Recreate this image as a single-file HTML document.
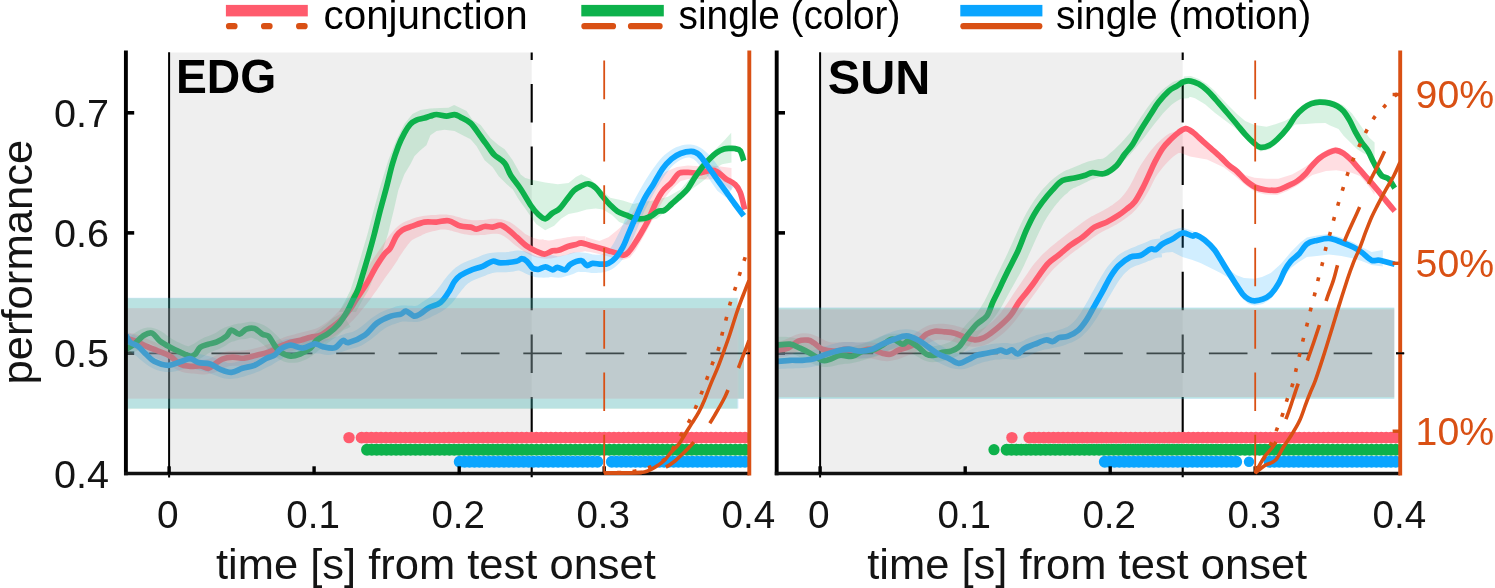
<!DOCTYPE html>
<html><head><meta charset="utf-8"><title>Figure</title>
<style>html,body{margin:0;padding:0;background:#fff;}body{width:1495px;height:588px;overflow:hidden;font-family:"Liberation Sans",sans-serif;}svg{display:block;will-change:transform;}</style></head>
<body>
<svg width="1495" height="588" viewBox="0 0 1495 588" font-family='"Liberation Sans", sans-serif'>
<rect width="1495" height="588" fill="#fff"/>
<clipPath id="clipL"><rect x="125.9" y="50.5" width="625.4" height="428.9"/></clipPath>
<rect x="169.1" y="52.5" width="362.6" height="420.9" fill="#efefef"/>
<line x1="169.1" y1="52.3" x2="169.1" y2="477.5" stroke="#000" stroke-width="2"/>
<line x1="531.7" y1="52.5" x2="531.7" y2="477.3" stroke="#000" stroke-width="2.1" stroke-dasharray="38.5 24.1" stroke-dashoffset="31.1"/>
<line x1="125.9" y1="353.3" x2="753.3" y2="353.3" stroke="#000" stroke-width="1.7" stroke-dasharray="38.6 23.77" stroke-dashoffset="39.2"/>
<line x1="125.9" y1="353.2" x2="134.2" y2="353.2" stroke="#000" stroke-width="3.6"/>
<g clip-path="url(#clipL)">
<path d="M123.2 339.2L125.2 338.5L127.1 337.8L128.5 337.2L130 336.7L131.6 335.4L133.3 334.1L135.5 332.6L137.9 331L140.6 329.4L143.7 328.2L147.3 327.5L150.9 327.5L154.2 328.2L157.1 329.3L159.8 330.6L162.3 332.1L164.6 333.6L166.6 335.2L168.6 336.6L170.3 337.8L172.1 338.9L173.9 339.9L175.7 340.9L177.6 341.9L179.5 342.8L181.4 343.7L183.2 344.5L184.8 345.3L186.3 345.8L187.3 346.1L188 346.2L188.7 346.2L189.6 345.8L190.8 345.3L192.3 344.6L193.9 343.7L195.7 342.5L197.7 341.2L200 339.8L202.4 338.4L204.8 337.3L207.1 336.4L209.2 335.7L211 335L212.8 334.2L214.4 333.5L216 332.7L217.8 331.5L219.9 330.1L222.2 328.7L224.8 327.5L227.3 326.5L229.6 325.9L231.8 325.2L234 324.6L236.4 323.9L238.7 323.6L240.8 323.4L242.7 323.1L244.5 322.7L246.8 322.2L249.6 321.8L252.6 321.8L255.6 322.3L258.3 323.1L261 324L263.6 325.1L266.2 326.5L268.8 328.3L271.2 330.3L273.4 332.3L275.5 334.3L277.6 336.3L279.7 338.4L281.6 340.4L283.5 342.3L285.2 343.9L286.6 345.1L287.9 345.9L288.9 346.3L289.9 346.6L291 346.8L292.1 346.8L293.3 346.8L294.5 346.6L295.8 346.3L297.2 345.8L298.6 345.3L300.1 344.5L301.6 343.6L303.2 342.4L305 340.9L306.9 339.3L308.9 337.7L310.9 336.1L312.9 334.4L315 332.7L317.1 331L319.2 329.4L321.3 327.9L323.2 326.5L325 325.2L326.8 323.8L328.6 322.3L330.9 320.1L333.2 317.7L335.7 316.4L338.4 315L340.4 314L342.3 312.9L350.5 326.7L348.3 327.9L346.2 329L344.8 329.6L343.3 330.2L341.5 332L339.7 333.8L337.4 335.8L335 337.7L332.8 339.3L330.7 340.8L328.8 342.2L326.9 343.6L325 345.1L323.1 346.7L321.1 348.4L319.1 350.1L317.1 351.7L315 353.4L312.8 355.2L310.4 356.9L307.9 358.5L305.4 359.7L302.8 360.8L300.2 361.7L297.5 362.4L294.7 362.8L291.9 362.8L289 362.7L286.1 362.2L283.1 361.2L280.1 359.8L277.4 358.1L274.8 356.1L272.5 353.9L270.4 351.7L268.3 349.7L266.4 347.7L264.5 345.8L262.6 344.1L260.8 342.5L259.2 341.2L257.8 340.1L256.4 339.4L255 338.9L253.7 338.4L252.4 338L251.4 337.8L250.4 337.8L249.2 338L247.5 338.4L245.3 338.9L243.2 339.2L241.3 339.3L239.6 339.6L238 340.1L236.2 340.6L234.4 341.2L232.7 341.6L231.2 342.1L229.8 342.8L228.1 343.8L226.2 345.2L224 346.6L221.6 347.8L219.2 348.9L217 349.8L214.8 350.6L212.9 351.3L211.2 351.9L209.6 352.7L208 353.6L206.3 354.7L204.3 356L202.1 357.4L199.7 358.8L197.2 360L194.4 361.1L191.3 361.9L188 362.2L184.7 361.9L181.7 361.2L179.2 360.3L176.8 359.2L174.6 358.2L172.5 357.2L170.4 356.1L168.3 355L166.1 353.9L163.9 352.6L161.7 351.3L159.4 349.8L157.4 348.3L155.4 346.8L153.7 345.6L152.2 344.7L150.9 344.1L149.8 343.6L149.1 343.4L148.7 343.4L148.3 343.5L147.4 343.9L146.1 344.8L144.5 345.8L142.7 347.1L140.4 348.8L138 350.5L135.5 351.6L132.9 352.7L130.8 353.5L128.8 354.2ZM339 312L345.5 300L350.5 290L355 276L361 256L367.5 234L374.3 208L380.3 186.3L388.3 160.2L396.3 140.2L404.4 124.1L412.4 114.1L420.4 110.1L430.4 108.5L440.5 108.1L448.5 107.7L454.1 105.1L460.5 108.1L466.6 111.1L472.6 120.1L480.6 125.1L490.6 138.2L498.7 145.2L504.7 149.2L512.7 160.2L520.7 174.5L525.3 177.9L531.6 179.7L545.2 182.4L557.8 184.2L568.6 183L575.9 177L581.3 174.2L590.3 178.8L601.1 189.6L610.2 197.7L622.8 200.4L633.6 204L640.9 202.2L653.5 200.4L668 196.8L680.6 189.6L689.6 178.8L698.7 166.1L707.7 157.1L716.7 148.1L724 140.8L731.2 132.7L731.5 162.5L722.1 164.3L713.1 169.7L705.9 178.8L698.7 184.2L691.4 189.6L680.6 200.4L668 209.5L657.1 218.5L644.5 222.1L635.5 223.9L626.4 224.8L619.2 222.1L612 214.9L602.9 209.5L595.7 208.6L586.7 209.5L577.7 212.2L568.6 214L561.4 218.5L554.2 225.7L545.2 230.2L536.1 223.9L527.1 211.3L518.1 198.6L512.7 189.3L506.7 184.3L498.7 176.3L492.7 167.3L484.6 160.2L476.6 146.2L470.6 139.2L464.6 136.2L454.5 131.1L444.5 129.7L436.5 131.1L430.4 135.2L426.4 145.2L420.4 150.2L414.4 156.2L410.4 164.3L404.4 174.3L398.3 190.3L394.3 208L388 234L381 256L374 276L368.5 290L362.5 300L356 312Z" fill="#0db14b" fill-opacity="0.16" fill-rule="nonzero"/>
<path d="M127.1 332.5L129.2 332.8L131.3 333.2L133.7 333.6L136 334.2L138.4 335.1L140.7 336L142.7 336.9L144.8 337.8L146.8 338.7L148.8 339.6L150.8 340.4L152.8 341.3L154.7 342.1L156.7 342.9L158.7 343.8L160.7 344.6L162.7 345.4L164.9 346.3L167 347.3L169.3 348.5L171.5 349.7L173.6 350.9L175.6 352.2L177.6 353.4L179.5 354.6L181.3 355.6L183.1 356.6L184.7 357.3L186.2 357.9L187.7 358.3L189.1 358.6L190.8 358.8L192.6 358.9L194.6 359.1L196.6 359.2L198.6 359.4L200.4 359.6L202.1 359.7L203.6 359.7L205.2 359.6L206.7 359.3L208.1 359L209.6 358.5L211.2 357.9L212.9 357L214.9 356L217 354.9L219.3 353.9L221.6 352.9L224.1 352.1L226.6 351.5L229.1 351.1L231.4 350.9L233.7 350.8L235.8 350.7L237.9 350.7L239.8 350.7L241.7 350.6L243.5 350.5L245.2 350.3L247 350.1L248.7 349.8L250.5 349.5L252.4 349L254.3 348.5L256.3 348L258.2 347.6L260.1 347.1L261.9 346.5L263.7 345.9L265.6 345.3L267.4 344.5L269.3 343.8L271.2 343L273.1 342.1L275.1 341.2L277.2 340.3L279.3 339.3L281.4 338.4L283.6 337.6L285.8 336.8L287.9 336.1L290 335.5L292.1 334.9L294.2 334.4L296.3 333.8L298.3 333.3L300.3 332.8L302.3 332.3L304.3 331.8L306.3 331.3L308.3 330.8L310.2 330.3L312 329.8L313.7 329.3L315.5 328.7L317.2 328L318.9 327.2L320.6 326.3L322.3 325.3L324.1 324.1L325.9 322.8L327.7 321.4L329.6 319.9L331.4 318.4L333.3 316.7L335.1 315L336.9 313.1L338.8 311.2L340.6 309L342.5 306.7L344.4 304.1L346.3 301.5L348.2 298.7L350.2 295.9L352.1 292.9L354.1 289.9L356.1 286.8L358 283.6L360 280.4L362 277.1L364 273.8L366 270.4L368 267.1L370.1 263.7L372.1 260.4L374.2 257.3L376.2 254.4L378.2 251.6L380.2 248.7L382.2 245.7L384.3 242.7L386.3 239.8L388.4 237L390.5 234.3L392.7 231.7L395 229.1L397.3 226.8L399.8 224.7L402.4 223.1L404.9 221.8L407.2 220.7L409.5 219.9L411.7 219.1L413.8 218.3L416 217.6L418.3 217L420.5 216.5L422.8 216L425 215.7L427.2 215.4L429.4 215.2L431.6 215.1L433.6 215L435.6 214.9L437.6 214.8L439.7 214.6L441.9 214.5L444.3 214.5L446.7 214.6L449.1 214.9L451.4 215.3L453.8 215.8L456 216.4L458.1 217L460.1 217.6L462 218.2L463.8 218.7L465.7 219.1L467.5 219.5L469.3 219.8L470.9 220.1L472.6 220.2L474.3 220.3L476 220.2L477.9 220.2L479.8 220.1L481.6 220.1L483.3 219.9L485.2 219.7L487.1 219.4L489.2 219.1L491.5 218.8L493.9 218.7L496.4 218.7L499 219L501.6 219.3L504.2 219.9L507 220.9L509.7 222.1L512.3 223.6L514.7 225.3L516.9 227.1L519.1 228.8L521.2 230.6L523.2 232.3L525.1 234L527.3 235.1L529.5 236.2L531.5 237.1L533.6 237.9L535.5 238.6L537.4 239.1L539.1 239.4L540.5 239.6L541.8 239.5L542.7 239.2L543.5 239.6L544.4 239.9L545.5 240.1L546.8 240.3L548 240.4L549.5 240.4L551.1 240.2L552.9 239.9L554.9 239.5L557 239.1L559.1 238.8L561.1 238.5L563.1 238.1L565.1 237.7L567.3 237.3L569.6 236.9L572.1 236.5L574.5 236.2L576.9 236.2L579.2 236.2L581.3 236.2L583.4 236.2L585.4 236.3L586.6 251L584.6 251.3L582.7 251.7L580.8 252.1L579 252.2L577.3 252.3L575.7 252.5L574 252.9L572.2 253.3L570.2 253.9L568.2 254.4L566.1 255L564 255.4L562 255.9L560 256.4L557.9 256.9L555.8 257.5L553.5 258L551.1 258.4L548.7 258.6L546.2 258.7L543.8 258.6L541.3 258.3L538.7 257.8L536.2 257.2L533.7 256.4L531.2 255.4L528.9 254.3L526.6 253L524.3 251.7L522.1 250.2L519.9 248.7L517.7 247.1L515.5 245.5L513.4 243.7L511.4 242L509.5 240.3L507.6 238.8L505.8 237.4L504.1 236.2L502.6 235.4L501.2 234.7L499.9 234.3L498.5 234L497.1 233.8L495.6 233.7L494.1 233.7L492.5 233.8L490.8 234L488.9 234.3L486.8 234.6L484.7 234.9L482.4 235L480.2 235.1L478.1 235.2L476 235.2L473.7 235.3L471.4 235.2L469 235L466.7 234.6L464.4 234.2L462.2 233.7L460 233.2L457.9 232.6L455.8 232L453.7 231.4L451.8 230.8L450.1 230.4L448.4 230L446.8 229.7L445.3 229.5L443.7 229.5L442.1 229.5L440.3 229.6L438.5 230.1L436.5 230.5L434.5 230.9L432.6 231.3L430.8 231.8L429.1 232.2L427.4 232.7L425.8 233.3L424.3 233.9L422.8 234.6L421.3 235.4L419.7 236.2L418 237L416.4 237.7L414.9 238.4L413.5 239.2L412.5 239.8L411.5 240.5L410.5 241.5L409.3 242.9L407.8 244.7L406.2 246.9L404.5 249.2L402.8 251.8L401 254.5L399.1 257.3L397.3 260.4L395.3 263.4L393.4 266.3L391.6 269L389.5 271.7L387.5 274.5L385.3 277.6L383.1 280.8L380.9 284L378.7 287.2L376.5 290.4L374.2 293.6L372 296.7L369.7 299.9L367.4 303L365.1 305.9L362.8 308.8L360.5 311.6L358.2 314.4L355.9 317.1L353.5 319.7L351.1 322.1L348.7 324.4L346.3 326.4L344.1 328.5L341.9 330.4L339.7 332.3L337.5 334L335.3 335.6L333 337.2L330.7 338.7L328.3 340.1L325.9 341.3L323.6 342.4L321.2 343.4L318.8 344.2L316.5 344.9L314.3 345.5L312.2 346L310.1 346.5L308.1 347L306.1 347.5L304.1 348L302.1 348.5L300.1 349L298.2 349.4L296.3 349.9L294.4 350.4L292.5 351L290.7 351.5L288.9 352.1L287.1 352.8L285.3 353.5L283.4 354.4L281.5 355.2L279.4 356.2L277.4 357.1L275.2 358L273.1 358.8L270.9 359.6L268.7 360.4L266.5 361.1L264.3 361.7L262.1 362.3L260 362.8L258 363.3L255.9 363.8L253.7 364.3L251.5 364.7L249.2 365.1L246.9 365.4L244.6 365.6L242.4 365.7L240.2 365.7L238.2 365.7L236.2 365.8L234.3 365.8L232.6 365.8L231.1 365.9L229.6 366.1L228.2 366.5L226.7 367L225.1 367.6L223.4 368.3L221.5 369.3L219.4 370.4L217.2 371.4L214.7 372.5L212.1 373.3L209.5 373.8L206.9 374.2L204.4 374.4L201.9 374.4L199.5 374.3L197.3 374L195.3 373.8L193.4 373.6L191.4 373.5L189.2 373.3L186.8 373L184.2 372.5L181.6 371.7L179.1 370.7L176.7 369.6L174.4 368.3L172.3 367.1L170.2 365.8L168.1 364.6L166.2 363.3L164.3 362.2L162.6 361.2L160.8 360.3L159 359.4L157.1 358.6L155.2 357.8L153.2 357L151.2 356.1L149.2 355.2L147.1 354.4L145.1 353.5L143.1 352.5L141.1 351.6L139.1 350.7L137.2 349.9L135.3 349L133.6 348.3L132 347.6L130.3 347.3L128.7 347L126.8 346.6L124.9 346.3ZM586 237L590.3 238.5L599.3 241L608.4 237.2L617.4 229.9L626.4 221.8L637.3 205.9L648.1 189.6L657.1 178.8L666.2 171.5L677 167L687.8 165.6L698.7 166.2L709.5 165.2L720.3 166.5L731.5 167.9L731.5 190.5L725.8 186L716.7 178.9L707.7 179.6L698.7 178.9L689.6 178.8L680.6 181L671.6 189.5L664.3 198.5L657.1 211L649.9 225L642.7 238L635.5 250.5L630 257.5L622.8 260L612 257.5L601.1 254.5L590.3 252L586 251.5Z" fill="#ff5b6d" fill-opacity="0.2" fill-rule="nonzero"/>
<path d="M128.7 333.2L130.7 333.9L132.8 334.6L135.7 335.8L138.3 337L140.8 339.2L143.2 341.2L145.1 342.6L147.1 344.3L149.2 346L151.2 347.8L153 349.4L154.8 350.8L156.4 352L158.1 353L159.7 353.9L161.2 354.6L162.6 355.2L163.9 355.6L165.2 355.8L166.6 355.9L168 356L169.5 356L171 355.8L172.5 355.6L174.1 355.2L175.8 354.7L177.8 354.1L180.1 353.4L182.6 352.9L185.2 352.5L187.8 352.3L190.4 352.4L192.9 352.6L195.2 352.9L197.6 353.4L199.8 353.9L201.9 354.5L204 354.9L205.9 355.4L208 355.9L210.2 356.5L212.4 357.1L214.6 357.9L216.8 358.7L218.9 359.5L221 360.3L222.9 361.1L224.6 361.8L226.2 362.3L227.5 362.7L228.8 362.9L230.1 362.9L231.5 362.9L233 362.7L234.5 362.5L236.1 362.1L237.9 361.6L239.7 361L241.7 360.4L243.7 359.9L245.6 359.3L247.4 358.7L249.2 358L251 357.3L252.8 356.6L254.6 355.7L256.5 354.8L258.4 353.8L260.4 352.8L262.3 351.9L264.1 350.9L266 349.8L267.9 348.6L269.9 347.4L271.9 346.2L273.9 345L276 343.8L278.2 342.5L280.6 341.2L283.3 340L286.2 339.2L289 338.8L291.7 338.6L294.1 338.6L296.3 338.7L298.2 338.8L300 338.9L301.7 338.9L303.3 338.7L305 338.5L306.9 338.2L309 337.9L311.3 337.6L313.6 337.4L316.1 337.4L318.5 337.5L320.9 337.7L323.2 338L325.2 338.4L326.9 338.8L328.1 338.9L329.1 338.9L330.3 338.6L331.9 338.1L333.7 337.5L335.7 336.9L337.6 336.4L339.5 335.8L341.5 335.1L343.5 334.4L345.8 333.6L348 333.1L349.9 332.6L351.6 332.3L353 331.8L354.5 331.1L356 330.2L357.7 329.2L359.4 328L361.2 326.7L363 325.2L364.9 323.7L366.9 322L369 320.3L371.1 318.6L373.3 316.9L375.6 315.4L377.9 313.9L380.3 312.5L382.7 311.4L385 310.4L387.2 309.6L389.3 308.9L391.4 308.2L393.6 307.4L395.9 306.6L398.5 306L401.3 305.6L403.9 305.5L406.2 305.6L408.3 305.7L410.2 305.8L412.2 305.8L413.8 305.9L415.2 305.9L416.3 305.8L417.4 305.5L418.6 304.7L420.1 303.7L421.8 302.6L423.7 301.3L425.6 300L427.4 298.9L429.1 297.6L430.7 296.4L432.2 295.2L433.7 293.8L435.1 292.3L436.5 290.5L438.2 288.3L440 285.9L442 283.2L444 280.3L446.2 277.5L448.4 274.8L450.8 272.2L453.2 269.7L455.8 267.5L458.5 265.7L461.1 264.1L463.6 262.8L466 261.8L468.2 260.8L470.3 260L472.4 259.2L474.3 258.4L476.3 257.7L478.3 256.9L480.4 256L482.7 255.1L485.1 254.3L487.6 253.6L490.1 253.1L492.6 252.7L495.1 252.4L497.5 252.2L499.8 252.2L502 252.2L503.9 252.2L505.6 252.2L507.1 252.1L508.6 251.9L510.4 251.6L512.5 251.2L515 250.8L518 250.6L521.1 250.8L524.3 251.3L527.2 252.2L529.9 253.3L532.4 254.4L534.5 255.6L536.5 256.3L538 256.7L539.2 256.8L540.3 256.8L541.6 256.7L542.9 256.5L544.3 256.3L545.8 256L547.6 255.6L549.9 255.1L552.5 255.3L554.9 255.7L556.6 256.1L557.5 256.4L558.2 256.4L559.2 256.3L560.8 255.9L562.6 255.6L564.3 255.3L565.9 254.9L567.9 254.2L570.5 253.2L573.6 252.4L576.9 252.2L579.9 252.3L582.3 252.5L584.6 252.7L586.9 253L589.2 253.5L591.2 253.9L592.8 254.4L594.2 254.6L595.7 254.7L597.4 254.7L599.2 254.8L600.8 254.6L602.1 254.4L603.2 254.2L604.2 253.9L605.3 253.3L606.4 252.5L607.7 251.4L609.1 249.8L610.7 247.8L612.4 245.2L614.2 242.2L616 238.7L617.9 234.9L619.9 230.9L621.8 226.7L623.8 222.4L625.8 217.9L627.8 213.4L629.9 209L631.9 204.8L634 200.7L636.1 196.8L638.2 192.9L640.3 189.2L642.4 185.6L644.5 182L646.6 178.6L648.7 175.3L650.8 172.1L652.9 168.9L655.1 165.9L657.3 163L659.5 160.2L661.9 157.6L664.2 155.3L666.7 153.2L669.1 151.4L671.6 149.7L674.1 148.3L676.7 147.1L679.3 146.2L682 145.3L684.7 144.8L687.7 144.5L690.8 144.6L693.9 145.1L697.1 146.1L700.1 147.5L702.9 149.3L705.5 151.4L708 153.7L710.3 156.2L712.5 158.9L714.7 161.6L716.8 164.4L718.9 167.2L721 170L723 172.7L725.1 175.5L726.8 177.8L728.3 180.1L729.8 180.9L731.1 181.6L733.1 183L735.1 184.3L726 197.4L724.1 195.9L722.1 194.5L719.6 192.6L717.3 190.7L715 187.4L712.8 184.3L710.9 181.4L709 178.6L707.1 175.8L705.2 173L703.3 170.3L701.5 167.7L699.7 165.4L698 163.4L696.3 161.6L694.8 160.2L693.4 159.1L692 158.4L690.8 157.9L689.5 157.6L688.2 157.6L686.8 157.7L685.3 158L683.7 158.6L682 159.2L680.3 160L678.7 161L676.9 162.2L675.2 163.5L673.4 165L671.6 166.8L669.8 168.9L668 171.2L666.1 173.8L664.1 176.6L662.2 179.5L660.2 182.6L658.3 185.7L656.3 189L654.3 192.4L652.4 195.9L650.4 199.5L648.4 203.2L646.5 207L644.5 210.9L642.7 215.1L640.9 219.5L639.1 223.9L637.3 228.5L635.4 233L633.6 237.4L631.7 241.7L629.8 246L627.9 250L625.9 253.7L623.9 257.2L621.7 260.4L619.3 263.2L616.9 265.6L614.2 267.7L611.5 269.4L608.6 270.7L605.8 271.7L603.2 272.3L600.8 272.7L598.6 272.8L596.3 273L593.8 273.1L591.3 272.9L588.9 272.6L586.9 272.3L585.2 272.1L583.5 272L581.7 271.9L580.1 271.9L578.9 271.8L577.9 271.9L576.8 272.3L575.3 273L573.2 273.9L570.9 274.8L568.6 275.4L566.4 276L564.1 276.7L561.3 277.4L558.4 277.7L555.6 277.6L553.3 277.3L551.6 277.1L550.1 277.1L548.3 277.4L546.1 277.6L543.8 277.7L541.3 277.6L538.7 277.5L536 277.2L533.1 276.5L530.3 275.6L527.7 274.5L525.5 273.4L523.6 272.4L522.1 271.7L520.8 271.2L519.7 270.8L518.9 270.6L518 270.6L517 270.7L515.5 271L513.6 271.4L511.4 271.8L508.9 272L506.4 272.2L504.1 272.2L502 272.2L500.2 272.2L498.5 272.2L496.9 272.3L495.4 272.5L493.9 272.7L492.4 273L490.9 273.4L489.3 274L487.6 274.6L485.7 275.4L483.7 276.3L481.7 277.1L479.6 277.8L477.7 278.6L475.8 279.3L474 280.1L472.4 280.8L470.9 281.6L469.5 282.4L468.2 283.3L466.8 284.5L465.2 286L463.6 287.9L461.8 290L460 292.4L458 295.1L456 297.9L453.8 300.8L451.5 303.5L448.9 306L446.3 308.2L443.8 310.1L441.3 311.7L438.9 313.1L436.6 314.2L434.4 315.3L432.3 316.3L430.2 317.4L427.9 318.5L425.4 319.6L422.6 320.6L419.7 321.4L416.8 321.9L414.2 321.9L411.8 321.8L409.8 321.8L407.7 321.7L405.8 321.6L404.1 321.5L402.7 321.6L401.5 321.7L400.1 322.1L398.4 322.7L396.6 323.3L394.7 323.9L392.8 324.6L391 325.3L389.3 326L387.7 326.7L386.1 327.6L384.4 328.7L382.7 329.9L380.9 331.3L379 332.8L377.1 334.4L375.1 336L373 337.8L370.8 339.5L368.6 341.1L366.3 342.6L364 344.1L361.5 345.4L359 346.6L356.4 347.5L354.1 348.1L352 348.6L350.2 349L348.5 349.6L346.5 350.3L344.5 351L342.4 351.7L340.3 352.2L338.3 352.8L336.1 353.5L333.7 354.3L330.9 354.8L327.9 354.9L325.1 354.7L322.8 354.2L320.8 353.8L319.1 353.6L317.5 353.5L315.9 353.4L314.4 353.4L312.7 353.5L311 353.8L309.1 354L307 354.4L304.7 354.7L302.3 354.8L300 354.9L297.8 354.8L295.7 354.7L293.9 354.6L292.3 354.6L291 354.6L289.8 354.8L288.7 355.1L287.4 355.7L285.8 356.6L284 357.6L282.1 358.8L280.1 359.9L278.1 361.1L276.1 362.3L274 363.6L271.9 364.9L269.7 366L267.6 367.1L265.6 368.1L263.5 369.1L261.4 370.2L259.2 371.2L257 372.1L254.8 373L252.6 373.8L250.4 374.5L248.3 375.1L246.3 375.7L244.3 376.4L242.1 377L239.9 377.6L237.5 378.2L235 378.6L232.5 378.8L229.9 378.9L227.2 378.8L224.5 378.4L221.8 377.8L219.4 376.9L217.1 376L215 375.2L213.1 374.4L211.2 373.7L209.4 373L207.6 372.4L205.8 371.9L204 371.4L202.1 371L200 370.5L198.1 370L196.2 369.5L194.4 369L192.8 368.7L191.1 368.5L189.6 368.4L188.2 368.3L186.8 368.4L185.4 368.6L183.9 369L182.2 369.5L180.2 370.1L177.9 370.8L175.5 371.3L173 371.7L170.5 371.9L168 372L165.4 371.9L162.8 371.6L160.1 371.1L157.4 370.3L154.8 369.3L152.3 368.1L149.9 366.7L147.6 365.3L145.2 363.6L143 361.8L140.8 360L138.8 358.2L136.9 356.6L134.9 355L132.8 353.4L131.2 352L129.7 350.4L128.3 350L127.2 349.6L125.3 349L123.3 348.2Z" fill="#0aa5ff" fill-opacity="0.19" fill-rule="nonzero"/>
<path d="M126 338.2C127.7 338.7 132.7 339.9 136 341.2C139.3 342.5 142.7 344.7 146 346.2C149.3 347.7 152.1 348.5 156.1 350.2C160.1 351.9 166.2 353.8 170.2 356.2C174.2 358.6 176.9 362.6 180.2 364.3C183.5 366 186.8 366 190.2 366.3C193.5 366.6 197.3 365.6 200.3 365.9C203.3 366.2 206 368.6 208.3 368.3C210.6 368 212 365.8 214.3 364.3C216.6 362.8 219.3 360.4 222.3 359.2C225.3 358 228.7 357.4 232.4 357.2C236.1 357 240.4 358.5 244.4 358.2C248.4 357.9 252.5 356.2 256.5 355.2C260.5 354.2 264.5 353.7 268.5 352.2C272.5 350.7 276.8 347.9 280.5 346.2C284.2 344.5 287.2 343.2 290.6 342.2C294 341.2 297.3 341 300.6 340.2C303.9 339.4 307.2 338 310.6 337.2C314 336.4 317.4 336.7 320.7 335.2C324 333.7 327.3 330.6 330.7 328.1C334.1 325.6 337.4 323.4 340.8 320.1C344.2 316.8 348.2 311.6 350.8 308.1C353.4 304.7 353.6 303.4 356.2 299.4C358.8 295.4 362.8 289.8 366.2 284.3C369.6 278.8 373.3 271.3 376.3 266.3C379.3 261.3 382 257.2 384.3 254.2C386.6 251.2 388.3 251.2 390.3 248.2C392.3 245.2 394.3 239.2 396.3 236.2C398.3 233.2 399.6 231.8 402.3 230.1C405 228.4 408.7 227.4 412.4 226.1C416.1 224.8 420.4 222.8 424.4 222.1C428.4 221.4 432.5 222.3 436.5 222.1C440.5 221.9 444.5 220 448.5 220.7C452.5 221.4 456.8 225 460.5 226.1C464.2 227.2 467.9 226.6 470.6 227.1C473.3 227.6 474.3 229.2 476.6 229.1C478.9 229 481.9 226.8 484.6 226.5C487.3 226.2 490 227.3 492.7 227.1C495.4 226.9 498 224.6 500.7 225.1C503.4 225.6 506 228.1 508.7 230.1C511.4 232.1 513.7 234.5 516.7 237.2C519.7 239.9 523.4 243.8 526.8 246.2C530.1 248.6 533.8 250.1 536.8 251.4C539.8 252.7 541.9 254.2 544.5 254.1C547.1 254 550.3 251.4 552.6 250.8C554.9 250.2 555.9 251 558.4 250.3C560.9 249.6 564.9 247.5 567.8 246.5C570.7 245.5 573.8 245.1 576 244.5C578.2 243.9 578.8 242.8 581.2 242.9C583.6 243.1 587.3 244.6 590.3 245.4C593.3 246.2 596.3 247.1 599.3 248C602.3 248.9 605.4 249.8 608.4 250.7C611.4 251.6 614.8 252.7 617.4 253.4C620 254.2 621.9 255.3 623.7 255.2C625.5 255 626.6 254.2 628.2 252.5C629.9 250.8 631.5 248.5 633.6 245.3C635.7 242.1 638.5 237.6 640.9 233.5C643.3 229.4 645.7 225.4 648.1 220.5C650.5 215.6 652.9 208.8 655.3 204C657.7 199.2 659.8 195 662.5 191.4C665.2 187.8 668.9 185.4 671.6 182.4C674.3 179.4 676.1 175 678.8 173.3C681.5 171.6 684.5 172.5 687.8 172.4C691.1 172.3 695.1 173.3 698.7 173C702.3 172.7 706.5 170.8 709.5 170.6C712.5 170.3 714 170.1 716.7 171.5C719.4 172.9 722.8 176.7 725.8 178.8C728.8 180.9 732.4 181.9 734.8 184.2C737.2 186.4 738.6 188.1 740.2 192.3C741.9 196.5 744 206.6 744.7 209.5" fill="none" stroke="#ff5b6d" stroke-width="5.7" stroke-linejoin="round" stroke-linecap="butt"/>
<path d="M126 349.2C127.3 348.4 131 346.5 134 344.2C137 341.9 141.1 337 144.1 335.2C147.1 333.4 149.4 332.1 152.1 333.1C154.8 334.1 157.1 338.9 160.1 341.2C163.1 343.5 166.8 345.4 170.2 347.2C173.5 349 176.9 350.7 180.2 352.2C183.5 353.7 187.7 355.9 190.2 356.2C192.7 356.5 193.6 355.7 195.3 354.2C197 352.7 198.1 348.9 200.3 347.2C202.5 345.5 205.6 345 208.3 344.2C211 343.4 213.3 343.5 216.3 342.2C219.3 340.9 223.9 338.2 226.4 336.2C228.9 334.2 229.2 330.4 231.4 330.1C233.6 329.8 236.9 334.4 239.4 334.2C241.9 334 243.9 330.1 246.4 329.1C248.9 328.2 251.8 327.6 254.5 328.5C257.2 329.4 260.2 332.9 262.5 334.2C264.8 335.5 266.5 334.4 268.5 336.2C270.5 338 272.5 342.5 274.5 345.2C276.5 347.9 277.8 350.4 280.5 352.2C283.2 354 287.2 355.9 290.6 356.2C294 356.5 297.3 355.1 300.6 353.8C303.9 352.5 307.9 350.5 310.6 348.2C313.3 345.9 313.7 342.7 316.7 340.2C319.7 337.7 325 335.8 328.7 333.1C332.4 330.4 335.7 327.6 338.7 324.1C341.7 320.6 344.4 316.1 346.8 312.1C349.2 308.1 351 303.7 352.8 300C354.6 296.3 356.2 293.9 357.8 290C359.4 286.1 360.5 281.9 362.2 276.3C363.9 270.7 366.2 263.2 368.2 256.2C370.2 249.2 372.3 241.8 374.3 234.1C376.3 226.4 378.3 217.7 380.3 210C382.3 202.3 384.3 195.6 386.3 188C388.3 180.4 390.3 171.3 392.3 164.3C394.3 157.3 396.3 151.4 398.3 146.2C400.3 141 402.4 136.8 404.4 133.1C406.4 129.4 408.4 126.3 410.4 124.1C412.4 121.9 414.1 121.1 416.4 120.1C418.7 119.1 422.1 118.8 424.4 118.1C426.7 117.4 428.4 116.7 430.4 116.1C432.4 115.5 433.8 114.5 436.5 114.5C439.2 114.5 443.5 116.1 446.5 116.1C449.5 116.1 452.2 114.5 454.5 114.7C456.8 114.9 457.8 115.7 460.5 117.1C463.2 118.5 467.2 119.9 470.6 123.1C474 126.3 477.3 131.7 480.6 136.2C483.9 140.7 488.2 147 490.6 150.2C493 153.4 492.4 153 494.7 155.2C497 157.4 502 159.8 504.7 163.2C507.4 166.5 508 171 510.7 175.3C513.4 179.6 517.3 183.9 520.7 189C524.1 194.1 528.3 201.8 531.2 206C534.1 210.2 535.6 211.9 537.9 214C540.2 216.1 542.8 219 545.2 218.8C547.6 218.7 550 214.8 552.4 213.1C554.8 211.4 557.2 210.9 559.6 208.6C562 206.3 564.4 202.5 566.8 199.5C569.2 196.5 571.6 192.8 574 190.5C576.4 188.2 578.9 187.1 581.3 186C583.7 184.9 586.1 183.5 588.5 183.8C590.9 184.1 593.3 185.6 595.7 187.8C598.1 190 600.5 193.9 602.9 196.8C605.3 199.7 607.8 202.6 610.2 205C612.6 207.4 614.7 209.6 617.4 211.3C620.1 213 623.4 214 626.4 215.2C629.4 216.4 632.5 217.9 635.5 218.5C638.5 219.1 641.8 218.9 644.5 218.5C647.2 218.1 649.5 217 651.7 215.8C654 214.6 655.9 212.2 658 211.3C660.1 210.4 662 211.6 664.3 210.4C666.6 209.2 668.9 206.4 671.6 204C674.3 201.6 677.9 198.5 680.6 195.9C683.3 193.3 685.4 191.8 687.8 188.7C690.2 185.5 692.7 180.6 695.1 177C697.5 173.4 699.9 170 702.3 167C704.7 164 707.1 161.3 709.5 158.9C711.9 156.5 714.3 154.2 716.7 152.6C719.1 150.9 721.7 149.7 724 149C726.3 148.3 728.5 148.5 730.3 148.4C732.1 148.3 733.1 148.2 734.8 148.6C736.4 149 738.7 148.8 740.2 150.8C741.7 152.8 743.2 159 743.8 160.7" fill="none" stroke="#0db14b" stroke-width="5.7" stroke-linejoin="round" stroke-linecap="butt"/>
<path d="M126 335.2C126.7 336.4 128 340.4 130 342.2C132 344 135.3 344.2 138 346.2C140.7 348.2 143.3 351.7 146 354.2C148.7 356.7 150.4 359.3 154.1 361.2C157.8 363.1 163.8 365.2 168.2 365.3C172.5 365.4 176.5 362.9 180.2 361.8C183.9 360.7 187.2 358.5 190.2 358.6C193.2 358.7 195 361.7 198.3 362.6C201.7 363.5 206.6 362.8 210.3 363.9C214 365 216.8 367.9 220.3 369.3C223.8 370.7 227.7 372.5 231.4 372.3C235.1 372.1 238.6 369.5 242.4 368.3C246.2 367.1 250.5 367 254.5 365.3C258.5 363.6 263.2 359.9 266.5 358.2C269.8 356.5 272.2 356.7 274.5 355.2C276.8 353.7 277.8 350.9 280.5 349.2C283.2 347.5 286.9 345.4 290.6 345.2C294.3 345 298.6 348.4 302.6 348.2C306.6 348 311.4 344.1 314.7 343.8C318 343.5 319.4 345.9 322.7 346.6C326 347.3 331.3 348.8 334.7 347.8C338.1 346.8 340.4 341.5 342.8 340.6C345.2 339.7 345.1 343.5 348.8 342.6C352.5 341.7 360.1 338.4 364.8 335.2C369.5 331.9 372.5 326.3 376.9 323.1C381.2 319.9 386.9 317.6 390.9 316.1C394.9 314.6 398.5 314.9 401 314.1C403.5 313.3 403.8 310.8 406 311.1C408.2 311.4 411.7 315.6 414 316.1C416.3 316.6 417.6 315.5 420 314.1C422.4 312.8 425 309.9 428.4 308C431.8 306.1 437.1 305 440.5 302.4C443.9 299.8 446.2 295.8 448.5 292.3C450.8 288.8 452.5 284.1 454.5 281.3C456.5 278.5 457.8 277.1 460.5 275.3C463.2 273.5 466.9 271.8 470.6 270.3C474.3 268.8 478.9 267.8 482.6 266.3C486.3 264.8 489.7 261.8 492.7 261.2C495.7 260.6 496.7 262.8 500.7 262.8C504.7 262.8 513 262 516.5 261.3C520 260.6 520 258.6 521.7 258.6C523.5 258.6 525.2 259.7 527 261.3C528.8 262.9 530.7 266.8 532.6 268.1C534.5 269.4 536.2 269.5 538.4 269.3C540.5 269.1 543.1 266.7 545.5 266.8C547.9 266.9 550.6 269.7 552.6 269.8C554.6 269.9 555.3 267.3 557.4 267.3C559.5 267.3 562.8 270.4 565 269.9C567.2 269.4 567.9 265.8 570.6 264.2C573.3 262.6 578.5 260.4 581.2 260.6C583.9 260.8 584.9 265.1 586.8 265.5C588.7 265.9 590.2 263.5 592.6 263.3C595 263.1 598.5 264.2 601.1 264.2C603.7 264.2 606 264.4 608.4 263.3C610.8 262.2 613.2 260.6 615.6 257.9C618 255.2 620.7 250.9 622.8 247.1C624.9 243.3 626.2 239.2 628 235C629.8 230.8 632.4 224.6 633.6 221.8C634.9 219.1 633.7 222.4 635.5 218.5C637.3 214.6 641.5 204.3 644.5 198.6C647.5 192.9 650.5 189.2 653.5 184.2C656.5 179.2 659.5 173 662.5 168.8C665.5 164.6 668.6 161.5 671.6 158.9C674.6 156.3 677.3 154.8 680.6 153.5C683.9 152.2 688.4 151.2 691.4 151.3C694.4 151.5 696 151.9 698.7 154.4C701.4 156.9 704.7 162 707.7 166.1C710.7 170.2 713.7 174.6 716.7 178.8C719.7 183 722.8 187.2 725.8 191.4C728.8 195.6 731.8 199.9 734.8 204C737.8 208.1 742.3 213.8 743.8 215.8" fill="none" stroke="#0aa5ff" stroke-width="5.7" stroke-linejoin="round" stroke-linecap="butt"/>
<rect x="125.9" y="297.7" width="612.6" height="110.7" fill="rgb(70,170,255)" fill-opacity="0.2"/>
<rect x="125.9" y="298.2" width="611.6" height="110.6" fill="rgb(60,180,110)" fill-opacity="0.2"/>
<rect x="125.9" y="308.2" width="618.1" height="90.5" fill="rgb(217,116,130)" fill-opacity="0.2"/>
<rect x="738.5" y="308.2" width="5.5" height="90.5" fill="rgb(70,170,255)" fill-opacity="0.2"/>
<rect x="737.5" y="308.2" width="6.5" height="90.5" fill="rgb(60,180,110)" fill-opacity="0.2"/>
</g>
<circle cx="349" cy="437.6" r="5.7" fill="#ff5b6d"/>
<line x1="361.6" y1="437.6" x2="745.30" y2="437.6" stroke="#ff5b6d" stroke-width="11.9" stroke-linecap="round" stroke-dasharray="0 4.8532"/>
<line x1="367" y1="449.7" x2="745.30" y2="449.7" stroke="#0db14b" stroke-width="11.9" stroke-linecap="round" stroke-dasharray="0 4.8462"/>
<line x1="459.7" y1="461.8" x2="597.70" y2="461.8" stroke="#0aa5ff" stroke-width="11.9" stroke-linecap="round" stroke-dasharray="0 4.9179"/>
<line x1="611.8" y1="461.8" x2="745.30" y2="461.8" stroke="#0aa5ff" stroke-width="11.9" stroke-linecap="round" stroke-dasharray="0 4.7571"/>
<line x1="125.9" y1="50.5" x2="125.9" y2="475.2" stroke="#000" stroke-width="3.9"/>
<line x1="124" y1="473.6" x2="749.3" y2="473.6" stroke="#111" stroke-width="3.5"/>
<line x1="125.9" y1="112.8" x2="134.2" y2="112.8" stroke="#000" stroke-width="3.6"/>
<line x1="125.9" y1="232.9" x2="134.2" y2="232.9" stroke="#000" stroke-width="3.6"/>
<line x1="169.1" y1="466.3" x2="169.1" y2="474" stroke="#000" stroke-width="3.4"/>
<line x1="314.1" y1="466.3" x2="314.1" y2="474" stroke="#000" stroke-width="3.4"/>
<line x1="459.2" y1="466.3" x2="459.2" y2="474" stroke="#000" stroke-width="3.4"/>
<line x1="604.2" y1="466.3" x2="604.2" y2="474" stroke="#000" stroke-width="3.4"/>
<line x1="604.2" y1="473.4" x2="604.2" y2="60.3" stroke="#d95014" stroke-width="1.8" stroke-dasharray="38.6 23.77"/>
<g clip-path="url(#clipL)" fill="none" stroke="#d95014" stroke-width="3.6" stroke-linejoin="round">
<path d="M604.3 473C607.8 472.9 619.6 472.7 625 472.3C630.4 471.9 632.5 471.6 636.9 470.7C641.3 469.8 646.6 468.6 651.2 466.7C655.9 464.8 661 462.5 664.8 459.2C668.6 455.9 671.1 451.1 673.9 446.9C676.7 442.6 679.2 438.1 681.8 433.7C684.4 429.3 687.2 424.9 689.6 420.4C692 415.9 694.1 411.2 696.1 406.5C698.1 401.8 700 397 701.9 392.1C703.8 387.2 705.6 382.1 707.4 377.3C709.2 372.5 710.6 368.1 712.5 363.4C714.4 358.7 716.9 353.9 718.5 349C720.1 344.1 720.9 338.8 722.2 333.7C723.5 328.6 724.9 323.8 726.2 318.7C727.5 313.6 728.7 308.2 730.2 303.2C731.7 298.2 733.5 293.7 735.1 288.8C736.7 283.9 738.2 278.8 739.8 273.8C741.4 268.8 743.2 263.4 744.7 258.8C746.2 254.2 748.3 248.1 749 246" stroke-dasharray="3.9 11.7" stroke-dashoffset="2.7"/>
<path d="M604.3 473C610.2 472.9 631.5 472.9 640 472.6C648.5 472.3 650.8 471.9 655 471C659.2 470.1 662.2 469 665.5 467.3C668.8 465.6 672.1 463.3 675 461C677.9 458.7 680.2 456.3 683 453.5C685.8 450.7 689.2 447.3 692 444.2C694.8 441.1 697.3 438.2 700 435C702.7 431.8 705.7 428.9 708.4 425.2C711.1 421.5 713.2 417.7 716 413C718.8 408.3 722.4 402 724.9 397C727.4 392 728.9 387.4 731 383C733.1 378.6 735.3 375.1 737.3 370.6C739.3 366.1 741 361 743 356C745 351 748 343.1 749 340.5" stroke-dasharray="37.6 24.8"/>
<path d="M604.3 473C608.7 473 624.1 472.9 630.8 472.8C637.5 472.7 641 472.7 644.4 472.1C647.8 471.5 648.9 470.5 651.2 469.4C653.5 468.3 655.7 466.9 658 465.3C660.3 463.7 662.5 462.2 664.8 459.9C667.1 457.6 669.3 454.2 671.6 451.7C673.9 449.2 676.1 447.8 678.4 444.9C680.7 441.9 682.9 437.6 685.2 434C687.5 430.4 689.7 426.7 692 423.1C694.3 419.5 696.7 416.1 698.8 412.2C700.9 408.3 702.5 404.7 704.5 400C706.5 395.3 708.6 389.2 710.8 383.9C712.9 378.6 715.2 373.9 717.4 368.4C719.6 362.9 722 356.3 724 350.8C726 345.3 727.3 341.9 729.5 335.3C731.7 328.7 734.9 318 737.3 311C739.7 304 741.9 298.4 743.9 293.3C745.9 288.2 748.1 282.6 749 280.5"/>
</g>
<line x1="749.3" y1="50.5" x2="749.3" y2="475.4" stroke="#d95014" stroke-width="3.9"/>
<line x1="747.5" y1="353.3" x2="750" y2="353.3" stroke="#000" stroke-width="1.8"/>
<clipPath id="clipR"><rect x="776.7" y="50.5" width="625.5" height="428.9"/></clipPath>
<rect x="820.1" y="52.5" width="362.6" height="420.9" fill="#efefef"/>
<line x1="820.1" y1="52.3" x2="820.1" y2="477.5" stroke="#000" stroke-width="2"/>
<line x1="1182.7" y1="52.5" x2="1182.7" y2="477.3" stroke="#000" stroke-width="2.1" stroke-dasharray="38.5 24.1" stroke-dashoffset="31.1"/>
<line x1="776.7" y1="353.3" x2="1404.2" y2="353.3" stroke="#000" stroke-width="1.7" stroke-dasharray="38.6 23.77" stroke-dashoffset="4.4"/>
<line x1="776.7" y1="353.2" x2="785" y2="353.2" stroke="#000" stroke-width="3.6"/>
<g clip-path="url(#clipR)">
<path d="M776.7 336.9L778.8 336.8L780.9 336.7L783.1 336.7L785.4 336.8L787.7 336.9L790.1 337.2L792.5 337.6L794.9 338.1L797.4 338.8L799.8 339.6L802.1 340.6L804.3 341.5L806.4 342.5L808.6 343.6L810.7 344.6L812.8 345.7L814.8 346.8L816.7 347.9L818.5 348.9L820.1 349.6L821.6 350.2L823 350.7L824.3 351L825.5 351.1L826.6 351.1L827.9 351L829.4 350.6L831.2 350.1L833.2 349.6L835.4 349.2L837.6 348.7L839.9 348.3L842.1 348.1L844.2 347.9L846.2 347.7L847.9 347.6L849.6 347.3L851.3 347L853 346.6L854.8 346.1L856.7 345.5L858.7 344.9L860.7 344.2L862.8 343.7L864.8 343.1L866.8 342.5L868.7 342L870.5 341.5L872.2 340.9L873.9 340.3L875.6 339.5L877.4 338.6L879.4 337.5L881.8 336.3L884.3 335.2L887.1 334.4L889.9 333.9L892.6 333.7L895 333.7L897.3 333.7L899.7 333.8L902 334L904.3 334.4L906.5 334.9L908.6 335.3L910.8 335.8L913.3 336.3L916 337.2L918.7 338.4L921.2 339.9L923.4 341.5L925.3 342.7L927 343.8L928.6 344.7L930.1 345.4L931.3 345.9L932.3 346.1L933.3 346.2L934.5 346.1L935.9 345.9L937.6 345.6L939.3 345.3L941.1 344.9L942.8 344.4L944.6 343.9L946.3 343.3L947.9 342.8L949.3 342.2L950.6 341.4L952 340.4L953.6 339L955.3 337.3L957.1 335.4L958.9 333.4L960.9 331L962.8 328.5L964.9 326L967.1 323.6L969.2 321.3L971.2 319.3L973.1 317.4L974.9 315.4L976.7 313.1L978.5 310.7L980.3 308L982.1 305.1L984 301.9L985.9 298.3L987.8 294.4L989.8 290.2L991.8 286L993.8 281.8L995.8 277.6L997.8 273.5L999.8 269.4L1001.8 265.3L1003.8 261.3L1005.8 257.1L1007.7 252.9L1009.7 248.6L1011.7 244.2L1013.7 239.7L1015.7 235.3L1017.7 230.8L1019.8 226.3L1021.8 222L1023.9 217.8L1026 213.8L1028.1 210.1L1030.2 206.5L1032.3 203.2L1034.4 200.1L1036.6 197.1L1038.7 194.3L1040.8 191.6L1042.9 189.1L1045.1 186.7L1047.2 184.4L1049.5 182.1L1051.8 180L1054.2 178L1056.5 176.2L1058.9 174.5L1061.3 172.9L1063.7 171.5L1066.1 170.3L1068.5 169.4L1070.7 168.6L1072.7 167.8L1074.5 167.1L1076.3 166.3L1078.1 165.5L1080 164.7L1082 163.7L1084.3 162.9L1086.6 162.1L1089 161.3L1091.4 160.7L1093.6 160.2L1095.6 159.7L1097.3 159.2L1098.6 159L1099.9 159L1101 158.9L1101.8 158.8L1102.7 158.7L1103.6 158.3L1104.9 157.6L1106.4 156.5L1108.1 155L1110 153.2L1112.1 151.5L1114.2 149.7L1116.4 147.6L1118.7 145.3L1121 142.9L1123.3 140.4L1125.7 137.7L1128.1 135L1130.5 132.2L1132.8 129.4L1135.1 126.3L1137.1 123L1139.2 119.8L1141.3 116.6L1143.5 113.4L1145.6 110.3L1147.7 107.3L1149.8 104.4L1152 101.6L1154.1 98.9L1156.3 96.2L1158.5 93.8L1160.8 91.5L1163 89.4L1165.3 87.6L1167.5 85.9L1169.7 84.3L1172.2 82.6L1174.6 81.2L1177.1 80.5L1179.5 79.8L1181.5 79.3L1183.6 78.8L1189.3 97.9L1187.3 98.2L1185.2 98.5L1184 98.4L1183 98.2L1181.9 98.6L1180.6 99.1L1178.8 100L1176.9 101.1L1175.1 102.3L1173.2 103.6L1171.3 105.1L1169.3 106.9L1167.2 109L1165.1 111.2L1162.9 113.6L1160.7 116.2L1158.5 118.9L1156.2 121.7L1154 124.5L1151.7 127.5L1149.4 130.6L1147.1 133.7L1144.8 136.8L1142.4 139.8L1140 142.8L1137.7 145.6L1135.3 148.5L1132.9 151.2L1130.6 153.9L1128.2 156.5L1125.8 158.9L1123.4 161.2L1121.3 163.4L1119.3 165.7L1117.2 167.9L1115.1 170L1113 171.8L1110.7 173.3L1108.4 174.4L1106.1 175.4L1103.9 176.1L1101.7 176.6L1099.5 177.1L1097.5 177.8L1095.5 178.3L1093.7 178.9L1091.9 179.5L1090.2 180.3L1088.5 181L1086.8 181.9L1085 182.8L1083.1 183.8L1081.1 184.7L1079.1 185.7L1077.1 186.5L1075.2 187.4L1073.6 188.1L1072.1 188.9L1070.9 189.8L1069.7 190.7L1068.6 191.8L1067.5 192.9L1066.2 194L1064.8 195.1L1063.3 196.5L1061.6 198.2L1059.9 200.1L1058.1 202.2L1056.3 204.3L1054.5 206.6L1052.7 208.9L1050.9 211.5L1049 214.2L1047.2 217L1045.4 220.1L1043.5 223.3L1041.7 226.9L1039.8 230.7L1037.9 234.8L1035.9 239.1L1033.9 243.5L1031.9 247.9L1029.9 252.4L1027.9 256.9L1025.9 261.3L1023.9 265.7L1021.8 269.9L1019.7 274L1017.4 278L1015.2 282L1013 286L1010.7 289.9L1008.5 293.9L1006.3 298.1L1004 302.3L1001.7 306.4L999.3 310.3L996.9 313.9L994.5 317.3L992.1 320.3L989.7 323.2L987.2 325.8L984.9 328.2L982.8 330.3L980.8 332.3L978.9 334.3L977.1 336.4L975.2 338.8L973.1 341.3L971.1 343.8L968.9 346.3L966.7 348.6L964.4 350.8L962 352.9L959.4 354.8L956.7 356.4L954.1 357.6L951.7 358.4L949.4 359.1L947.2 359.8L944.9 360.4L942.7 360.9L940.4 361.4L938.1 361.8L935.5 362.1L932.7 362.2L929.7 361.9L926.7 361.2L923.9 360.2L921.4 359L919 357.6L916.7 356.3L914.6 354.9L912.8 353.6L911.3 352.6L910 352L908.7 351.7L907.2 351.3L905.4 350.9L903.5 350.6L901.7 350.2L900 349.9L898.3 349.8L896.7 349.7L895 349.7L893.4 349.6L892.1 349.7L890.9 349.9L889.7 350.3L888.2 350.9L886.6 351.8L884.6 352.9L882.4 354L880.1 355L877.8 355.9L875.5 356.7L873.3 357.4L871.2 357.9L869.2 358.5L867.2 359L865.3 359.6L863.3 360.2L861.3 360.8L859.2 361.5L857 362.1L854.7 362.6L852.4 363.1L850.1 363.4L847.8 363.7L845.8 363.8L843.9 364L842.1 364.2L840.4 364.5L838.6 364.8L836.8 365.2L834.8 365.7L832.6 366.3L830.1 366.8L827.4 367.1L824.5 367.1L821.7 366.7L819 366.1L816.4 365.3L813.9 364.3L811.5 363.3L809.3 362.1L807.2 360.9L805.2 359.9L803.3 358.9L801.4 357.9L799.6 357L797.7 356.1L795.9 355.3L794.2 354.6L792.6 354.1L791.1 353.6L789.5 353.3L787.9 353L786.3 352.9L784.6 352.8L782.9 352.7L781.1 352.7L779.2 352.8L777.3 352.9ZM1183.8 76.5L1190.8 76L1198.8 79L1206.9 84L1214.9 91L1226.9 104L1237 114L1245.2 121L1254.6 125.1L1266.5 126.8L1275.3 124.3L1285.3 120.8L1290 118L1295.3 112.5L1303.4 104.5L1311.4 100.3L1319.4 98.8L1329.5 99.8L1337.5 102.5L1343.5 105.5L1352.1 113.6L1360.6 125.5L1369.1 137.4L1374.6 142.5L1374.6 168.5L1373.6 166.5L1367.6 155L1364 153.5L1357.2 149.3L1350.4 142.5L1343.6 135.7L1338.5 128.9L1330 125.5L1325.4 123L1315.4 123.3L1305.4 124L1295 124.5L1287.3 132L1277.3 143.5L1269.3 149.5L1260.2 151.5L1253.2 146L1245.2 138L1235.1 128L1225.1 120.5L1215.1 113L1205 104.2L1195 98.2L1190.8 97L1183.8 96.5Z" fill="#0db14b" fill-opacity="0.16" fill-rule="nonzero"/>
<path d="M776.2 341.5L778 341.4L779.8 341.1L781.2 340.9L782.7 340.6L784.2 340L785.8 339.3L787.7 338.4L789.7 337.5L791.8 336.6L794 335.6L796.5 334.6L799.2 333.8L802.2 333.3L805.2 333.2L808.2 333.5L811.1 334.1L813.8 335L816.2 336L818.5 337.1L820.6 338.2L822.5 339.2L824.4 340.1L826.1 340.9L827.6 341.5L829 342L830.4 342.2L831.8 342.4L833.3 342.4L834.9 342.4L836.7 342.4L838.6 342.3L840.6 342.2L842.7 342.1L844.9 342L847.1 342L849.3 342L851.4 342.1L853.4 342.2L855.3 342.4L857.1 342.4L858.9 342.4L860.8 342.4L862.8 342.3L864.9 342.2L867.1 342.2L869.4 342.2L871.8 342.4L874.2 342.7L876.5 343.1L878.7 343.6L880.8 344.1L882.7 344.6L884.2 345L885.6 345.1L886.9 345.2L888.2 345.1L889.6 344.9L891.1 344.5L892.7 344.1L894.4 343.5L896.2 342.9L898.1 342.1L900 341.3L901.9 340.6L903.8 339.8L905.6 339L907.4 338.2L909.1 337.3L910.8 336.2L912.6 335L914.5 333.7L916.5 332.3L918.6 330.9L920.8 329.4L923.2 328L925.6 326.7L928.2 325.6L930.9 324.8L933.6 324.2L936.2 323.9L938.7 323.7L941.2 323.7L943.5 323.8L945.8 324.1L948.1 324.3L950.3 324.7L952.6 325.1L954.9 325.6L957.1 326.2L959.2 326.8L961.3 327.4L963.4 328.1L965.4 328.7L967.3 329.3L969.1 329.9L970.7 330.3L972.1 330.5L973.5 330.7L974.9 330.8L976.2 330.7L977.4 330.5L978.7 330.2L980 329.7L981.5 329L983.1 328.2L984.8 327.2L986.5 326.1L988.2 324.8L990 323.4L991.9 321.9L993.7 320.3L995.5 318.6L997.2 316.8L998.9 314.9L1000.6 312.9L1002.3 310.6L1004 308.1L1005.8 305.5L1007.7 302.8L1009.5 300.1L1011.3 297.2L1013.2 294.3L1015.1 291.4L1017.1 288.5L1019 285.7L1020.9 283L1022.7 280.2L1024.6 277.5L1026.5 274.7L1028.4 271.9L1030.3 269.1L1032.3 266.3L1034.4 263.5L1036.6 260.9L1038.8 258.4L1041 256L1043.2 253.8L1045.5 251.7L1047.7 249.7L1049.8 247.8L1051.9 246.1L1053.9 244.4L1056 242.7L1058 241.1L1060.1 239.4L1062.2 237.8L1064.2 236.2L1066.3 234.6L1068.3 233.1L1070.3 231.6L1072.3 230.2L1074.2 228.8L1076.1 227.3L1078.1 225.8L1080.2 224.2L1082.3 222.6L1084.5 221L1086.7 219.5L1089 218L1091.3 216.6L1093.6 215.4L1095.8 214.2L1097.9 213.2L1099.9 212.2L1101.8 211.2L1103.6 210.3L1105.3 209.3L1107.1 208.3L1108.8 207.2L1110.6 206.1L1112.4 204.9L1114.2 203.6L1115.9 202.3L1117.6 201L1119.1 199.7L1120.7 198.2L1122.2 196.6L1123.8 194.7L1125.5 192.6L1127.1 190.2L1128.9 187.5L1130.6 184.4L1132.5 181L1134.4 177.2L1136.3 173.3L1138.3 169.3L1140.5 165.4L1143.1 161.5L1145.6 157.7L1148.2 154.1L1150.9 150.6L1153.5 147.5L1156.1 144.5L1158.8 141.9L1161.4 139.5L1164 137.3L1166.9 135.1L1169.7 133.3L1172.4 132.4L1175 131.6L1177.2 131L1179.4 130.4L1190.1 154.4L1187.7 153.8L1185.3 153.4L1184.2 152.2L1183.3 151.4L1182 151.6L1180.4 152L1178.2 153.3L1175.8 154.8L1173.4 156.6L1170.9 158.7L1168.4 161.2L1165.8 163.9L1163.1 167L1160.4 170.4L1157.7 173.9L1155.3 177.7L1153.3 181.8L1151.2 185.9L1149.2 189.9L1147.1 193.7L1145 197.3L1142.8 200.7L1140.6 203.8L1138.4 206.6L1136.2 209.2L1133.9 211.6L1131.7 213.7L1129.4 215.5L1127.2 217.2L1125.1 218.8L1123 220.3L1120.8 221.7L1118.7 223.1L1116.6 224.4L1114.4 225.6L1112.3 226.8L1110.1 227.8L1108.1 228.9L1106.1 229.8L1104.2 230.7L1102.3 231.7L1100.5 232.7L1098.7 233.8L1096.8 234.9L1095 236.2L1093.1 237.5L1091.2 238.9L1089.2 240.5L1087.2 242L1085.2 243.5L1083.1 245L1081.1 246.5L1079.1 247.9L1077.2 249.4L1075.2 250.8L1073.3 252.3L1071.3 253.8L1069.4 255.3L1067.4 256.9L1065.4 258.5L1063.4 260.1L1061.5 261.7L1059.6 263.3L1057.8 265L1055.9 266.7L1054 268.6L1052.2 270.6L1050.3 272.7L1048.4 274.9L1046.5 277.3L1044.6 279.9L1042.7 282.6L1040.7 285.3L1038.7 288.1L1036.8 290.8L1034.8 293.5L1032.9 296.1L1030.9 298.8L1029 301.5L1027.1 304.3L1025.1 307.1L1023.1 310L1021.1 312.8L1019.1 315.5L1017.1 318.3L1015 321L1012.9 323.6L1010.7 326.1L1008.6 328.3L1006.4 330.4L1004.3 332.4L1002.1 334.2L1000 336L997.8 337.6L995.5 339.2L993.2 340.8L990.9 342.1L988.5 343.4L986 344.6L983.3 345.5L980.6 346.2L977.8 346.6L975.1 346.8L972.5 346.7L969.9 346.4L967.3 345.9L964.9 345.3L962.7 344.6L960.6 343.9L958.6 343.3L956.7 342.7L954.8 342.1L952.9 341.6L951.1 341.1L949.4 340.8L947.7 340.4L945.9 340.2L944.2 340L942.5 339.8L940.8 339.7L939.3 339.7L937.8 339.8L936.4 340L935.1 340.3L933.8 340.7L932.4 341.2L930.8 342.1L929.2 343.1L927.4 344.2L925.5 345.5L923.5 346.9L921.4 348.4L919.2 349.8L916.9 351.2L914.6 352.4L912.4 353.5L910.2 354.4L908.1 355.3L906 356.2L903.9 357L901.8 357.9L899.6 358.7L897.3 359.4L894.9 360.1L892.4 360.6L889.8 361L887.1 361.2L884.4 361.1L881.8 360.8L879.3 360.3L877.2 359.7L875.3 359.2L873.5 358.9L871.8 358.6L870.2 358.3L868.6 358.2L866.9 358.2L865.1 358.2L863.2 358.3L861.2 358.4L859.1 358.4L856.9 358.4L854.7 358.3L852.6 358.2L850.6 358.1L848.7 358L846.9 358L845.1 358L843.3 358L841.4 358.1L839.4 358.3L837.3 358.4L835.1 358.4L832.7 358.4L830.2 358.3L827.6 358L825 357.4L822.4 356.6L819.9 355.6L817.6 354.6L815.5 353.6L813.4 352.5L811.5 351.5L809.8 350.6L808.2 350L806.9 349.5L805.8 349.3L804.8 349.2L803.8 349.2L802.8 349.4L801.5 349.8L800 350.4L798.2 351.2L796.3 352.1L794.3 353L792.2 354L789.8 355L787.3 355.9L784.8 356.5L782.2 357L780 357.2L777.8 357.4ZM1178.8 129L1185.8 125.3L1192.8 129L1202.9 138L1210.9 145L1220.9 154L1229 162L1237 168L1245.2 175L1254.6 177.8L1266.5 178.7L1278.4 178.7L1292 174.4L1300 170L1305.4 166.8L1311.4 162L1319.4 154.5L1327.4 149.5L1335.5 146.8L1343.5 149.8L1351.5 157L1359.6 166L1367.6 175L1374.6 183L1374.5 194.8L1368.6 186.3L1360 176L1351.6 172.7L1336.3 170.2L1326 171L1312.4 175L1305 180L1297.3 185.5L1287.3 191L1277.3 195L1265.2 194.5L1255.2 192L1245.2 185L1235 176L1224 167.6L1207 159.5L1190 156.5L1186 155L1178 152Z" fill="#ff5b6d" fill-opacity="0.2" fill-rule="nonzero"/>
<path d="M776.7 353L778.7 352.9L780.7 352.8L782.7 352.8L784.7 352.7L786.7 352.6L788.7 352.5L790.7 352.4L792.7 352.4L794.7 352.3L796.7 352.3L798.6 352.2L800.5 352.1L802.4 352L804.2 351.8L806 351.6L807.7 351.4L809.4 351.1L811.2 350.7L813 350.2L814.8 349.7L816.7 349.2L818.5 348.6L820.5 347.9L822.4 347.3L824.5 346.6L826.6 345.9L828.8 345.2L830.9 344.6L833.1 344.1L835.2 343.5L837.4 343L839.7 342.6L842.1 342.3L844.4 342.1L846.8 342L849.1 342L851.3 342L853.4 342.1L855.4 342.2L857.3 342.4L859.1 342.4L860.9 342.4L862.5 342.4L864 342.3L865.5 342L867.1 341.7L868.7 341.2L870.4 340.7L872.2 340L874 339.3L875.9 338.5L877.8 337.7L879.7 336.8L881.8 335.9L883.9 335L886 334.1L888.2 333.3L890.3 332.5L892.4 331.7L894.7 331L897.1 330.2L899.6 329.7L902.3 329.4L904.9 329.2L907.5 329.3L910.2 329.6L912.9 330L915.6 330.8L918.1 331.8L920.5 333L922.8 334.2L925 335.4L927.2 336.7L929.4 338.1L931.5 339.5L933.5 341L935.5 342.3L937.3 343.5L939.2 344.7L941 345.8L942.8 346.8L944.7 347.8L946.6 348.8L948.4 349.7L950.3 350.5L952.1 351.3L953.8 352.1L955.3 352.6L956.7 353L958 353.2L959.2 353.3L960.4 353.3L961.5 353.1L962.8 352.8L964.3 352.3L966 351.5L968 350.7L970.1 349.9L972.2 349L974.4 348.3L976.6 347.5L978.8 346.9L981.1 346.3L983.2 345.8L985.3 345.3L987.4 344.9L989.5 344.5L991.7 344L994.1 343.7L996.3 343.5L998.4 343.4L1000.5 343.3L1002.7 343.1L1005.1 343L1007.6 343.1L1009.7 343.4L1011.4 343.7L1012.7 343.7L1014 343.6L1015.6 343.2L1017.2 342.8L1018.9 342.5L1020.4 342.1L1021.9 341.5L1023.5 340.7L1025.5 339.6L1027.7 338.6L1029.9 337.6L1032.1 336.8L1034.3 335.9L1036.6 335.1L1039.1 334.4L1041.4 333.9L1043.5 333.6L1045.5 333.2L1047.4 332.8L1049.3 332.4L1051.4 331.9L1053.4 331.6L1055.2 331.2L1056.8 330.8L1058.5 330.3L1060.3 329.6L1062.2 328.9L1064.1 328.2L1065.8 327.6L1067.3 326.9L1068.7 326.1L1070.2 325.1L1071.7 323.8L1073.3 322.3L1075 320.5L1076.7 318.4L1078.4 316.1L1080.3 313.4L1082.1 310.4L1084 307.3L1085.9 304.1L1087.8 300.7L1089.7 297.2L1091.7 293.6L1093.7 290L1095.6 286.4L1097.6 282.8L1099.7 279.2L1101.7 275.8L1103.8 272.4L1105.9 269.1L1108.1 266.1L1110.4 263.3L1112.6 260.7L1114.9 258.4L1117.3 256.1L1119.8 254.1L1122.4 252.4L1124.9 251.1L1127.3 249.9L1129.5 248.9L1131.6 248L1133.7 247.2L1135.7 246.4L1137.6 245.6L1139.7 244.8L1141.6 244L1143.5 243.2L1145.4 242.5L1147.7 241.4L1150.1 240.3L1152.7 239.6L1155.5 239.1L1157.7 238.8L1159.9 238.5L1162.1 257.2L1160.3 257.4L1158.5 257.6L1157.3 257.8L1155.9 258L1154.3 258.8L1152.6 259.5L1150.5 260.4L1148.4 261.1L1146.3 261.9L1144.4 262.7L1142.3 263.4L1140.3 264.2L1138.4 264.9L1136.5 265.6L1134.7 266.3L1133.1 267L1131.6 267.8L1130.2 268.6L1128.7 269.7L1127.1 271.2L1125.4 272.8L1123.6 274.6L1121.9 276.8L1120.1 279.1L1118.2 281.8L1116.3 284.8L1114.3 288L1112.4 291.3L1110.4 294.7L1108.3 298.2L1106.3 301.8L1104.3 305.4L1102.2 309L1100.1 312.5L1098 315.9L1095.9 319.2L1093.7 322.5L1091.6 325.6L1089.3 328.5L1087 331.2L1084.7 333.6L1082.3 335.9L1079.8 337.9L1077.3 339.6L1074.7 341.1L1072.2 342.2L1069.9 343.1L1067.8 343.8L1065.7 344.7L1063.5 345.5L1061.2 346.2L1058.8 346.8L1056.6 347.2L1054.6 347.6L1052.7 348L1050.6 348.5L1048.5 348.9L1046.5 349.3L1044.6 349.6L1042.9 349.9L1041.4 350.4L1039.7 351L1037.9 351.6L1036.1 352.3L1034.3 353.1L1032.5 354L1030.5 355.1L1028.1 356.3L1025.6 357.3L1023.1 358L1020.8 358.4L1018.4 358.9L1016 359.4L1013.3 359.7L1010.6 359.6L1008.3 359.3L1006.4 359L1004.9 359L1003.3 359.1L1001.5 359.2L999.6 359.4L997.7 359.4L995.9 359.6L994.3 359.8L992.5 360.2L990.6 360.6L988.7 361L986.8 361.4L984.9 361.8L983.2 362.3L981.4 362.8L979.6 363.4L977.8 364.1L975.9 364.8L974 365.5L972 366.4L969.7 367.3L967.2 368.2L964.5 368.9L961.6 369.2L958.8 369.3L956 369.1L953.3 368.6L950.7 367.9L948.2 367.1L945.9 366.1L943.7 365.1L941.6 364.1L939.4 363.1L937.3 362L935.2 360.9L933 359.6L930.8 358.4L928.7 357L926.5 355.6L924.5 354.2L922.5 352.8L920.6 351.5L918.8 350.3L917 349.3L915.2 348.2L913.5 347.3L911.9 346.6L910.4 346L909.1 345.6L907.8 345.4L906.5 345.3L905.1 345.2L903.7 345.3L902.4 345.5L900.9 345.8L899.3 346.3L897.6 346.9L895.7 347.5L893.8 348.2L892 348.9L890.1 349.7L888.2 350.5L886.3 351.4L884.2 352.3L882.1 353.3L880 354.2L877.8 355L875.6 355.8L873.3 356.5L870.9 357.2L868.5 357.8L866 358.2L863.5 358.4L861.1 358.4L858.9 358.4L856.7 358.3L854.6 358.2L852.6 358.1L850.7 358L848.9 358L847.2 358L845.6 358L843.9 358.2L842.3 358.4L840.6 358.7L838.8 359.1L836.9 359.6L835.1 360.1L833.2 360.6L831.4 361.1L829.5 361.8L827.6 362.4L825.5 363.1L823.5 363.8L821.3 364.5L819.2 365.1L817 365.7L814.8 366.3L812.6 366.7L810.3 367.2L808 367.5L805.8 367.7L803.6 367.9L801.5 368.1L799.4 368.2L797.3 368.2L795.3 368.3L793.3 368.4L791.3 368.4L789.3 368.5L787.3 368.6L785.3 368.7L783.3 368.8L781.3 368.8L779.3 368.9L777.3 369ZM1160 236L1166 232.5L1172.5 230L1178 228.5L1182.5 227.5L1192.5 231L1204.6 236L1214.6 246L1224.6 262L1230 270L1236 275L1244 278L1254.7 278.8L1262 277L1270.8 273.1L1280.8 264.1L1290.9 252.1L1300.9 242L1306.9 237.5L1316.9 235.5L1329 234L1341.5 237.5L1353.5 242.5L1361.6 247L1371.6 252L1382.8 250L1382.8 266.5L1371.6 265L1361.6 261L1353.5 258.5L1341.5 256L1329 254.5L1316.9 256L1306.9 257L1298.9 262L1290.9 268L1284.8 276L1278.8 288L1270.8 299L1262.8 304L1254.7 305.5L1248.7 304L1242.7 299L1234.7 287L1228 277.5L1220.6 273.1L1210.6 268.1L1200.5 263.1L1192.5 260.1L1182.5 257.1L1172.5 252L1166 252.5L1160 254Z" fill="#0aa5ff" fill-opacity="0.19" fill-rule="nonzero"/>
<path d="M777 350.2C778.9 349.9 784.6 349.7 788.1 348.2C791.6 346.7 794.8 342.5 798.1 341.2C801.4 339.9 805.4 339.9 808.1 340.2C810.8 340.5 811.9 341.7 814.2 343.2C816.6 344.7 818.9 347.9 822.2 349.2C825.5 350.5 830.2 351.2 834.2 351.2C838.2 351.2 842.3 349.2 846.3 349.2C850.3 349.2 854.3 351.2 858.3 351.2C862.3 351.2 866.3 348.9 870.3 349.2C874.3 349.5 879 352.3 882.4 353.2C885.8 354.1 887.7 354.8 890.4 354.3C893.1 353.8 895 351.6 898.4 350.2C901.8 348.8 907.1 347.7 910.5 346.2C913.9 344.7 915.8 343.2 918.5 341.2C921.2 339.2 923.8 335.9 926.5 334.2C929.2 332.5 931.6 331.6 934.6 331.2C937.6 330.8 941.3 331.5 944.6 331.8C947.9 332.1 951.2 332.3 954.6 333.2C958 334.1 961.4 336.1 964.7 337.2C968.1 338.3 971.7 339.6 974.7 339.8C977.7 340 980 339.3 982.7 338.2C985.4 337.1 987.8 335.4 990.8 333.2C993.8 331 997.5 328.2 1000.8 325.2C1004.1 322.2 1007.8 319 1010.8 315.1C1013.8 311.2 1016.2 306 1018.9 302.1C1021.6 298.2 1024.6 295 1026.9 292C1029.2 289 1031.1 286.6 1033 284C1034.9 281.4 1035.8 279.8 1038.3 276.4C1040.8 272.9 1044.9 266.8 1048.3 263.3C1051.7 259.8 1054.7 258.3 1058.4 255.3C1062.1 252.3 1066.4 248.3 1070.4 245.3C1074.4 242.3 1078.4 240.2 1082.4 237.2C1086.4 234.2 1090.5 229.7 1094.5 227.2C1098.5 224.7 1102.5 224.2 1106.5 222.2C1110.5 220.2 1115.2 217.4 1118.6 215.2C1121.9 213 1123.9 211.3 1126.6 209.1C1129.3 206.9 1131.9 205.6 1134.6 202.1C1137.3 198.6 1140 193.3 1142.7 188.1C1145.4 182.9 1148.7 175.3 1150.7 171C1152.7 166.7 1152.7 166.1 1154.7 162.3C1156.7 158.5 1160 152.1 1162.7 148.3C1165.4 144.5 1168.1 142 1170.8 139.3C1173.5 136.6 1176.3 134 1178.8 132.2C1181.3 130.4 1183.5 128.6 1185.8 128.6C1188.1 128.6 1189.9 130.1 1192.8 132.2C1195.7 134.3 1199.9 138.6 1202.9 141.3C1205.9 144 1207.9 145.6 1210.9 148.3C1213.9 151 1217.9 154.5 1220.9 157.3C1223.9 160.2 1226.3 163 1229 165.4C1231.7 167.8 1234.3 169.1 1237 171.5C1239.7 173.9 1242.2 177.4 1245.2 180C1248.2 182.6 1251.9 185.5 1255.2 187.1C1258.5 188.7 1261.5 189.2 1265.2 189.7C1268.9 190.2 1273.6 190.7 1277.3 190.1C1281 189.5 1284 187.6 1287.3 186.1C1290.6 184.6 1294.3 183 1297.3 181C1300.3 179 1303.1 176.4 1305.4 174C1307.8 171.6 1309.1 169 1311.4 166.4C1313.7 163.8 1316.7 160.5 1319.4 158.3C1322.1 156.1 1324.7 154.6 1327.4 153.3C1330.1 152 1332.8 150.3 1335.5 150.3C1338.2 150.3 1340.8 151.6 1343.5 153.3C1346.2 155 1348.8 157.6 1351.5 160.3C1354.2 163 1356.9 166.4 1359.6 169.4C1362.3 172.4 1364.6 175.1 1367.6 178.5C1370.6 181.9 1374.6 186.5 1377.6 190.1C1380.6 193.7 1382.8 196.6 1385.6 200.1C1388.4 203.6 1393.2 209.3 1394.7 211.1" fill="none" stroke="#ff5b6d" stroke-width="5.7" stroke-linejoin="round" stroke-linecap="butt"/>
<path d="M777 345.2C779.2 345 786.2 343.7 790.1 344.2C794 344.7 796.8 346.7 800.1 348.2C803.4 349.7 806.4 351.2 810.1 353.2C813.8 355.2 818.9 359.3 822.2 360.3C825.6 361.3 827.2 360.1 830.2 359.3C833.2 358.5 836.5 355.8 840.2 355.3C843.9 354.8 848.6 357 852.3 356.3C856 355.6 859 352.2 862.3 351.2C865.6 350.2 868.9 351.2 872.3 350.2C875.6 349.2 879 347 882.4 345.2C885.8 343.4 889 339.4 892.4 339.2C895.8 339 899.8 343.9 902.5 344.2C905.2 344.5 905.8 340.7 908.5 341.2C911.2 341.7 915.5 345 918.5 347.2C921.5 349.4 923.8 352.9 926.5 354.3C929.2 355.7 931.9 355.7 934.6 355.3C937.3 354.9 939.9 352.9 942.6 352.2C945.3 351.5 947.9 352 950.6 351.2C953.3 350.4 955.9 349.7 958.6 347.2C961.3 344.7 963.7 340 966.7 336.2C969.7 332.4 973.4 327.5 976.7 324.2C980 320.9 984 319.8 986.7 316.1C989.4 312.4 990.8 306.5 992.8 302.1C994.8 297.8 997.1 293.5 998.8 290C1000.5 286.5 1001.4 284.3 1003 281C1004.6 277.7 1005.7 275.4 1008.2 270.3C1010.7 265.2 1015.2 257 1018.2 250.3C1021.2 243.6 1023.6 236.2 1026.3 230.2C1029 224.2 1031.6 218.8 1034.3 214.1C1037 209.4 1039.3 206.1 1042.3 202.1C1045.3 198.1 1048.9 193.7 1052.3 190.1C1055.7 186.5 1058.7 182.5 1062.4 180.5C1066.1 178.5 1070.7 178.8 1074.4 178C1078.1 177.2 1081.5 176.4 1084.5 175.5C1087.5 174.6 1089.2 172.9 1092.5 172.6C1095.8 172.3 1100.5 174.8 1104.5 173.6C1108.5 172.4 1113.2 168.8 1116.6 165.6C1119.9 162.4 1121.9 157.9 1124.6 154.3C1127.3 150.8 1129.9 148.3 1132.6 144.3C1135.3 140.3 1137.6 135.2 1140.6 130.2C1143.6 125.2 1147.7 118.9 1150.7 114.2C1153.7 109.5 1155.7 105.9 1158.7 102.1C1161.7 98.2 1165.7 93.8 1168.7 91.1C1171.7 88.4 1174.3 87.7 1176.8 86.1C1179.3 84.5 1181.5 82.5 1183.8 81.7C1186.1 80.9 1188.3 80.7 1190.8 81.1C1193.3 81.5 1196.1 82.6 1198.8 84.1C1201.5 85.6 1204.2 87.7 1206.9 90.1C1209.6 92.5 1211.6 94.9 1214.9 98.6C1218.2 102.3 1223.2 108.2 1226.9 112.5C1230.6 116.8 1234 120.9 1237 124.5C1240 128.1 1242.5 131.3 1245.2 134.3C1247.9 137.3 1250.7 140.1 1253.2 142.3C1255.7 144.5 1257.5 146.8 1260.2 147.3C1262.9 147.8 1266.5 146.6 1269.3 145.3C1272.1 144 1274.3 142.2 1277.3 139.3C1280.3 136.5 1284.3 132 1287.3 128.2C1290.3 124.3 1292.6 119.5 1295.3 116.2C1298 112.9 1300.7 110.3 1303.4 108.2C1306.1 106.1 1308.7 104.7 1311.4 103.7C1314.1 102.7 1316.4 102.2 1319.4 102.1C1322.4 102 1326.5 102.4 1329.5 103.1C1332.5 103.8 1335.2 104.8 1337.5 106.2C1339.8 107.6 1341.5 108.9 1343.5 111.2C1345.5 113.5 1347.5 116.7 1349.5 120.2C1351.5 123.7 1353.5 128.5 1355.5 132.2C1357.5 135.9 1359.6 139.3 1361.6 142.3C1363.6 145.3 1365.6 147 1367.6 150.3C1369.6 153.6 1371.8 158.8 1373.6 162.3C1375.4 165.8 1377.1 169.2 1378.6 171.5C1380.1 173.8 1380.8 175.1 1382.5 176.3C1384.2 177.6 1386.7 177 1388.7 179C1390.7 181 1393.7 186.6 1394.7 188.1" fill="none" stroke="#0db14b" stroke-width="5.7" stroke-linejoin="round" stroke-linecap="butt"/>
<path d="M777 361.3C779.2 361.1 785.9 360.5 790.1 360.3C794.3 360.1 798.1 360.6 802.1 360.3C806.1 360 810.2 359.7 814.2 358.7C818.2 357.7 822.5 355.6 826.2 354.3C829.9 353.1 832.5 352.1 836.2 351.2C839.9 350.3 844.3 349.2 848.3 349.2C852.3 349.2 856.3 351.2 860.3 351.2C864.3 351.2 868.6 350.4 872.3 349.2C876 348 878.7 345.9 882.4 344.2C886.1 342.5 890.4 340.6 894.4 339.2C898.4 337.8 902.5 335.6 906.5 335.8C910.5 336 914.8 338.3 918.5 340.2C922.2 342.1 925.1 344.8 928.5 347.2C931.9 349.6 935.2 352.4 938.6 354.3C942 356.2 945.3 356.8 948.6 358.3C951.9 359.8 955.2 363.1 958.6 363.3C962 363.5 965.7 360.6 968.7 359.3C971.7 358 973.7 356.3 976.7 355.3C979.7 354.3 983.4 353.9 986.7 353.2C990.1 352.5 994.4 351.7 996.8 351.2C999.1 350.7 999.1 350 1000.8 350.2C1002.5 350.4 1005 352.3 1006.8 352.2C1008.6 352.1 1010 349.5 1011.8 349.8C1013.6 350.1 1015.6 354.2 1017.8 353.9C1020 353.6 1022.1 349.8 1024.9 348.2C1027.8 346.6 1031.4 345.6 1034.9 344.2C1038.4 342.8 1042.9 340.4 1045.9 340C1048.9 339.6 1050.8 341.9 1053 341.5C1055.2 341.1 1056.5 338.5 1059 337.6C1061.5 336.7 1064.9 337.4 1068.1 336.2C1071.3 335 1075.1 332.9 1078.1 330.3C1081.1 327.7 1083.5 324.3 1086.2 320.3C1088.9 316.3 1091.5 311 1094.2 306.3C1096.9 301.6 1099.5 297.1 1102.2 292.2C1104.9 287.3 1107.5 281.5 1110.2 277.2C1112.9 272.9 1115 269.5 1118.3 266.1C1121.6 262.8 1126.6 258.9 1130.3 257.1C1134 255.3 1136.9 256.8 1140.3 255.5C1143.7 254.2 1147.8 250.1 1150.4 249.1C1153 248.1 1153.9 250.3 1155.9 249.5C1157.9 248.7 1159.6 245.8 1162.4 244C1165.2 242.2 1169.2 240.8 1172.5 239C1175.8 237.2 1179.2 233.5 1182.5 233C1185.8 232.5 1190.2 235.7 1192.5 236C1194.8 236.3 1194 234.3 1196 235C1198 235.7 1201.5 237.5 1204.6 240C1207.7 242.5 1211.3 245.8 1214.6 250.1C1217.9 254.4 1221.2 260.8 1224.6 266.1C1227.9 271.5 1231.7 277.5 1234.7 282.2C1237.7 286.9 1240.4 291.4 1242.7 294.2C1245 297 1246.7 298.1 1248.7 299.2C1250.7 300.3 1252.4 300.8 1254.7 300.8C1257 300.8 1260.1 300.3 1262.8 299.2C1265.5 298.1 1268.1 296.9 1270.8 294.2C1273.5 291.5 1276.5 287.2 1278.8 283.2C1281.1 279.2 1282.8 273.8 1284.8 270.1C1286.8 266.4 1288.6 263.8 1290.9 261.1C1293.2 258.4 1296.2 256.9 1298.9 254.1C1301.6 251.2 1303.9 246.3 1306.9 244C1309.9 241.7 1313.2 241.3 1316.9 240.4C1320.6 239.5 1324.9 238.1 1329 238.4C1333.1 238.7 1337.4 240.7 1341.5 242.2C1345.6 243.7 1350.2 245.6 1353.5 247.3C1356.8 249 1358.6 250.1 1361.6 252.3C1364.6 254.5 1368.6 259 1371.6 260.3C1374.6 261.6 1375.8 259.6 1379.6 260.3C1383.4 261 1392.2 263.6 1394.7 264.3" fill="none" stroke="#0aa5ff" stroke-width="5.7" stroke-linejoin="round" stroke-linecap="butt"/>
<rect x="776.7" y="307.4" width="617.6" height="91.6" fill="rgb(70,170,255)" fill-opacity="0.2"/>
<rect x="776.7" y="307.9" width="617.6" height="90.6" fill="rgb(60,180,110)" fill-opacity="0.2"/>
<rect x="776.7" y="309.4" width="617.6" height="87.6" fill="rgb(217,116,130)" fill-opacity="0.2"/>
</g>
<circle cx="1011.9" cy="437.6" r="5.7" fill="#ff5b6d"/>
<line x1="1029.3" y1="437.6" x2="1396.10" y2="437.6" stroke="#ff5b6d" stroke-width="11.9" stroke-linecap="round" stroke-dasharray="0 4.8224"/>
<circle cx="994" cy="449.7" r="5.6" fill="#0db14b"/>
<line x1="1006.6" y1="449.7" x2="1396.10" y2="449.7" stroke="#0db14b" stroke-width="11.9" stroke-linecap="round" stroke-dasharray="0 4.8650"/>
<line x1="1104.8" y1="461.8" x2="1236.50" y2="461.8" stroke="#0aa5ff" stroke-width="11.9" stroke-linecap="round" stroke-dasharray="0 4.8667"/>
<circle cx="1249" cy="461.8" r="5.2" fill="#0aa5ff"/>
<line x1="1269.5" y1="461.8" x2="1396.10" y2="461.8" stroke="#0aa5ff" stroke-width="11.9" stroke-linecap="round" stroke-dasharray="0 4.8577"/>
<line x1="776.7" y1="50.5" x2="776.7" y2="475.2" stroke="#000" stroke-width="3.9"/>
<line x1="774.8" y1="473.6" x2="1400.2" y2="473.6" stroke="#111" stroke-width="3.5"/>
<line x1="776.7" y1="112.8" x2="785" y2="112.8" stroke="#000" stroke-width="3.6"/>
<line x1="776.7" y1="232.9" x2="785" y2="232.9" stroke="#000" stroke-width="3.6"/>
<line x1="820.1" y1="466.3" x2="820.1" y2="474" stroke="#000" stroke-width="3.4"/>
<line x1="965.2" y1="466.3" x2="965.2" y2="474" stroke="#000" stroke-width="3.4"/>
<line x1="1110.2" y1="466.3" x2="1110.2" y2="474" stroke="#000" stroke-width="3.4"/>
<line x1="1255.2" y1="466.3" x2="1255.2" y2="474" stroke="#000" stroke-width="3.4"/>
<line x1="1255.2" y1="473.4" x2="1255.2" y2="60.3" stroke="#d95014" stroke-width="1.8" stroke-dasharray="38.6 23.77"/>
<g clip-path="url(#clipR)" fill="none" stroke="#d95014" stroke-width="3.6" stroke-linejoin="round">
<path d="M1255.2 473C1256.3 471.2 1259.5 466.5 1262 462C1264.5 457.5 1267.5 451.6 1270 446C1272.5 440.4 1275.2 433.4 1277.3 428.1C1279.4 422.8 1281 419 1282.7 414.1C1284.4 409.2 1285.6 404 1287.3 399C1289 394 1291.2 389.1 1292.7 384C1294.2 378.9 1295.1 373.7 1296.3 368.7C1297.5 363.7 1298.6 358.9 1299.8 353.9C1301 348.9 1302.1 343.7 1303.4 338.6C1304.7 333.5 1306.1 328.2 1307.4 323.1C1308.7 318 1309.7 313.1 1311 308.1C1312.3 303.1 1313.8 297.9 1315 293C1316.2 288.1 1317.2 283.3 1318.4 278.4C1319.6 273.4 1321.2 268.3 1322.4 263.3C1323.6 258.3 1324.5 253.3 1325.8 248.3C1327.1 243.3 1328.7 238.2 1330.1 233.2C1331.5 228.2 1332.7 223.2 1334.1 218.2C1335.5 213.2 1337 208.1 1338.5 203.1C1340 198.1 1341.5 193.1 1343.1 188.1C1344.7 183.1 1346.2 177.9 1347.9 173C1349.6 168.1 1351.5 163.5 1353.5 158.7C1355.5 153.9 1357.8 149 1360 144.3C1362.2 139.6 1364.2 135.1 1366.6 130.6C1369 126.1 1371.2 121.7 1374.2 117.6C1377.2 113.5 1381 110 1384.6 106.2C1388.2 102.5 1393.1 97.6 1395.7 95.1C1398.3 92.6 1399.3 91.7 1400 91" stroke-dasharray="3.9 11.7" stroke-dashoffset="0"/>
<path d="M1255.2 473C1256.7 470.4 1260.9 462.2 1264.2 457.2C1267.5 452.2 1271.6 449.7 1275.3 443.2C1279 436.7 1283.3 425.6 1286.3 418.1C1289.3 410.6 1291.3 403.8 1293.3 398C1295.3 392.2 1295.9 389.7 1298.3 383.4C1300.7 377.1 1303.9 370 1307.4 360.3C1310.9 350.6 1316.2 335.2 1319.4 325.2C1322.6 315.2 1324.1 307.6 1326.4 300.1C1328.8 292.6 1331.7 285.8 1333.5 280C1335.3 274.2 1335.7 271.8 1337.5 265.3C1339.3 258.8 1340.8 250.9 1344.5 241.2C1348.2 231.5 1355.6 216.6 1359.6 207.1C1363.6 197.6 1365.9 190.2 1368.6 184C1371.3 177.8 1372.9 175.4 1375.6 170C1378.3 164.6 1383.1 154.4 1384.6 151.3" stroke-dasharray="37.6 24.8"/>
<path d="M1255.2 473C1256.9 471.7 1261.9 467.4 1265.2 465.3C1268.5 463.2 1272.3 463.3 1275.3 460.3C1278.3 457.3 1280.6 451.4 1283.3 447.2C1286 443 1288.6 439.5 1291.3 435.2C1294 430.9 1297.1 426.1 1299.4 421.1C1301.8 416.1 1303.6 410 1305.4 405.1C1307.2 400.2 1308.8 396.1 1310.5 392C1312.2 387.9 1313.2 386.2 1315.4 380.3C1317.6 374.4 1320.7 364.7 1323.4 356.3C1326.1 347.9 1328.8 338.9 1331.5 330.2C1334.2 321.5 1336.8 312.6 1339.5 304.1C1342.2 295.6 1345.2 286 1347.5 279C1349.8 272 1351.5 267.4 1353.5 262.3C1355.5 257.2 1357.6 253.3 1359.6 248.3C1361.6 243.3 1363.6 237.4 1365.6 232.2C1367.6 227 1369.6 221.7 1371.6 217.2C1373.6 212.7 1375.3 209.6 1377.6 205.1C1379.9 200.6 1382.9 194.9 1385.6 190.1C1388.3 185.2 1391.3 180.6 1393.7 176C1396.1 171.4 1399 164.6 1400 162.3"/>
</g>
<line x1="1400.2" y1="50.5" x2="1400.2" y2="475.4" stroke="#d95014" stroke-width="3.9"/>
<line x1="1392.6" y1="94.5" x2="1400.2" y2="94.5" stroke="#d95014" stroke-width="3.4"/>
<line x1="1392.6" y1="263.3" x2="1400.2" y2="263.3" stroke="#d95014" stroke-width="3.4"/>
<line x1="1392.6" y1="431.2" x2="1400.2" y2="431.2" stroke="#d95014" stroke-width="3.4"/>
<line x1="1396" y1="353.3" x2="1404.1" y2="353.3" stroke="#000" stroke-width="1.8"/>
<text x="54.1" y="126.9" font-size="39.2" text-anchor="start" font-weight="normal" fill="#141414" textLength="55" lengthAdjust="spacingAndGlyphs">0.7</text>
<text x="54.1" y="247" font-size="39.2" text-anchor="start" font-weight="normal" fill="#141414" textLength="55" lengthAdjust="spacingAndGlyphs">0.6</text>
<text x="54.1" y="367.2" font-size="39.2" text-anchor="start" font-weight="normal" fill="#141414" textLength="55" lengthAdjust="spacingAndGlyphs">0.5</text>
<text x="54.1" y="487.6" font-size="39.2" text-anchor="start" font-weight="normal" fill="#141414" textLength="55" lengthAdjust="spacingAndGlyphs">0.4</text>
<text x="167.9" y="528.4" font-size="39.2" text-anchor="middle" font-weight="normal" fill="#141414" textLength="21.6" lengthAdjust="spacingAndGlyphs">0</text>
<text x="313.1" y="528.4" font-size="39.2" text-anchor="middle" font-weight="normal" fill="#141414" textLength="53.6" lengthAdjust="spacingAndGlyphs">0.1</text>
<text x="458.2" y="528.4" font-size="39.2" text-anchor="middle" font-weight="normal" fill="#141414" textLength="53.6" lengthAdjust="spacingAndGlyphs">0.2</text>
<text x="603.2" y="528.4" font-size="39.2" text-anchor="middle" font-weight="normal" fill="#141414" textLength="53.6" lengthAdjust="spacingAndGlyphs">0.3</text>
<text x="748.3" y="528.4" font-size="39.2" text-anchor="middle" font-weight="normal" fill="#141414" textLength="53.6" lengthAdjust="spacingAndGlyphs">0.4</text>
<text x="818.9" y="528.4" font-size="39.2" text-anchor="middle" font-weight="normal" fill="#141414" textLength="21.6" lengthAdjust="spacingAndGlyphs">0</text>
<text x="964.2" y="528.4" font-size="39.2" text-anchor="middle" font-weight="normal" fill="#141414" textLength="53.6" lengthAdjust="spacingAndGlyphs">0.1</text>
<text x="1109.2" y="528.4" font-size="39.2" text-anchor="middle" font-weight="normal" fill="#141414" textLength="53.6" lengthAdjust="spacingAndGlyphs">0.2</text>
<text x="1254.2" y="528.4" font-size="39.2" text-anchor="middle" font-weight="normal" fill="#141414" textLength="53.6" lengthAdjust="spacingAndGlyphs">0.3</text>
<text x="1399.3" y="528.4" font-size="39.2" text-anchor="middle" font-weight="normal" fill="#141414" textLength="53.6" lengthAdjust="spacingAndGlyphs">0.4</text>
<text x="1415.6" y="108.1" font-size="39.2" text-anchor="start" font-weight="normal" fill="#d95014" textLength="78.5" lengthAdjust="spacingAndGlyphs">90%</text>
<text x="1415.6" y="276.9" font-size="39.2" text-anchor="start" font-weight="normal" fill="#d95014" textLength="78.5" lengthAdjust="spacingAndGlyphs">50%</text>
<text x="1415.6" y="445.2" font-size="39.2" text-anchor="start" font-weight="normal" fill="#d95014" textLength="78.5" lengthAdjust="spacingAndGlyphs">10%</text>
<text x="175.9" y="93.4" font-size="49" text-anchor="start" font-weight="bold" fill="#000" textLength="100.3" lengthAdjust="spacingAndGlyphs">EDG</text>
<text x="827.8" y="94.3" font-size="49" text-anchor="start" font-weight="bold" fill="#000" textLength="102.6" lengthAdjust="spacingAndGlyphs">SUN</text>
<text x="215.9" y="579" font-size="43" text-anchor="start" font-weight="normal" fill="#141414" textLength="440" lengthAdjust="spacingAndGlyphs">time [s] from test onset</text>
<text x="867.2" y="579" font-size="43" text-anchor="start" font-weight="normal" fill="#141414" textLength="440" lengthAdjust="spacingAndGlyphs">time [s] from test onset</text>
<text transform="translate(31.6 384.6) rotate(-90)" font-size="43" fill="#141414" textLength="245" lengthAdjust="spacingAndGlyphs">performance</text>
<rect x="225.9" y="4.9" width="81.9" height="11.5" fill="#ff5b6d"/>
<line x1="229" y1="26.2" x2="307.8" y2="26.2" stroke="#d95014" stroke-width="6.2" stroke-linecap="round" stroke-dasharray="5.5 29.55"/>
<text x="323.6" y="28.9" font-size="40.3" text-anchor="start" font-weight="normal" fill="#000" textLength="204" lengthAdjust="spacingAndGlyphs">conjunction</text>
<rect x="581.3" y="4.9" width="82.5" height="11.5" fill="#0db14b"/>
<line x1="584.4" y1="26.2" x2="660.7" y2="26.2" stroke="#d95014" stroke-width="6.2" stroke-linecap="round" stroke-dasharray="28.6 18"/>
<text x="678.6" y="28.9" font-size="40.3" text-anchor="start" font-weight="normal" fill="#000" textLength="221.8" lengthAdjust="spacingAndGlyphs">single (color)</text>
<rect x="960.3" y="4.9" width="82.1" height="11.5" fill="#0aa5ff"/>
<line x1="963.4" y1="26.2" x2="1039.3" y2="26.2" stroke="#d95014" stroke-width="6.2" stroke-linecap="round"/>
<text x="1056" y="28.9" font-size="40.3" text-anchor="start" font-weight="normal" fill="#000" textLength="255.3" lengthAdjust="spacingAndGlyphs">single (motion)</text>
</svg>
</body></html>
